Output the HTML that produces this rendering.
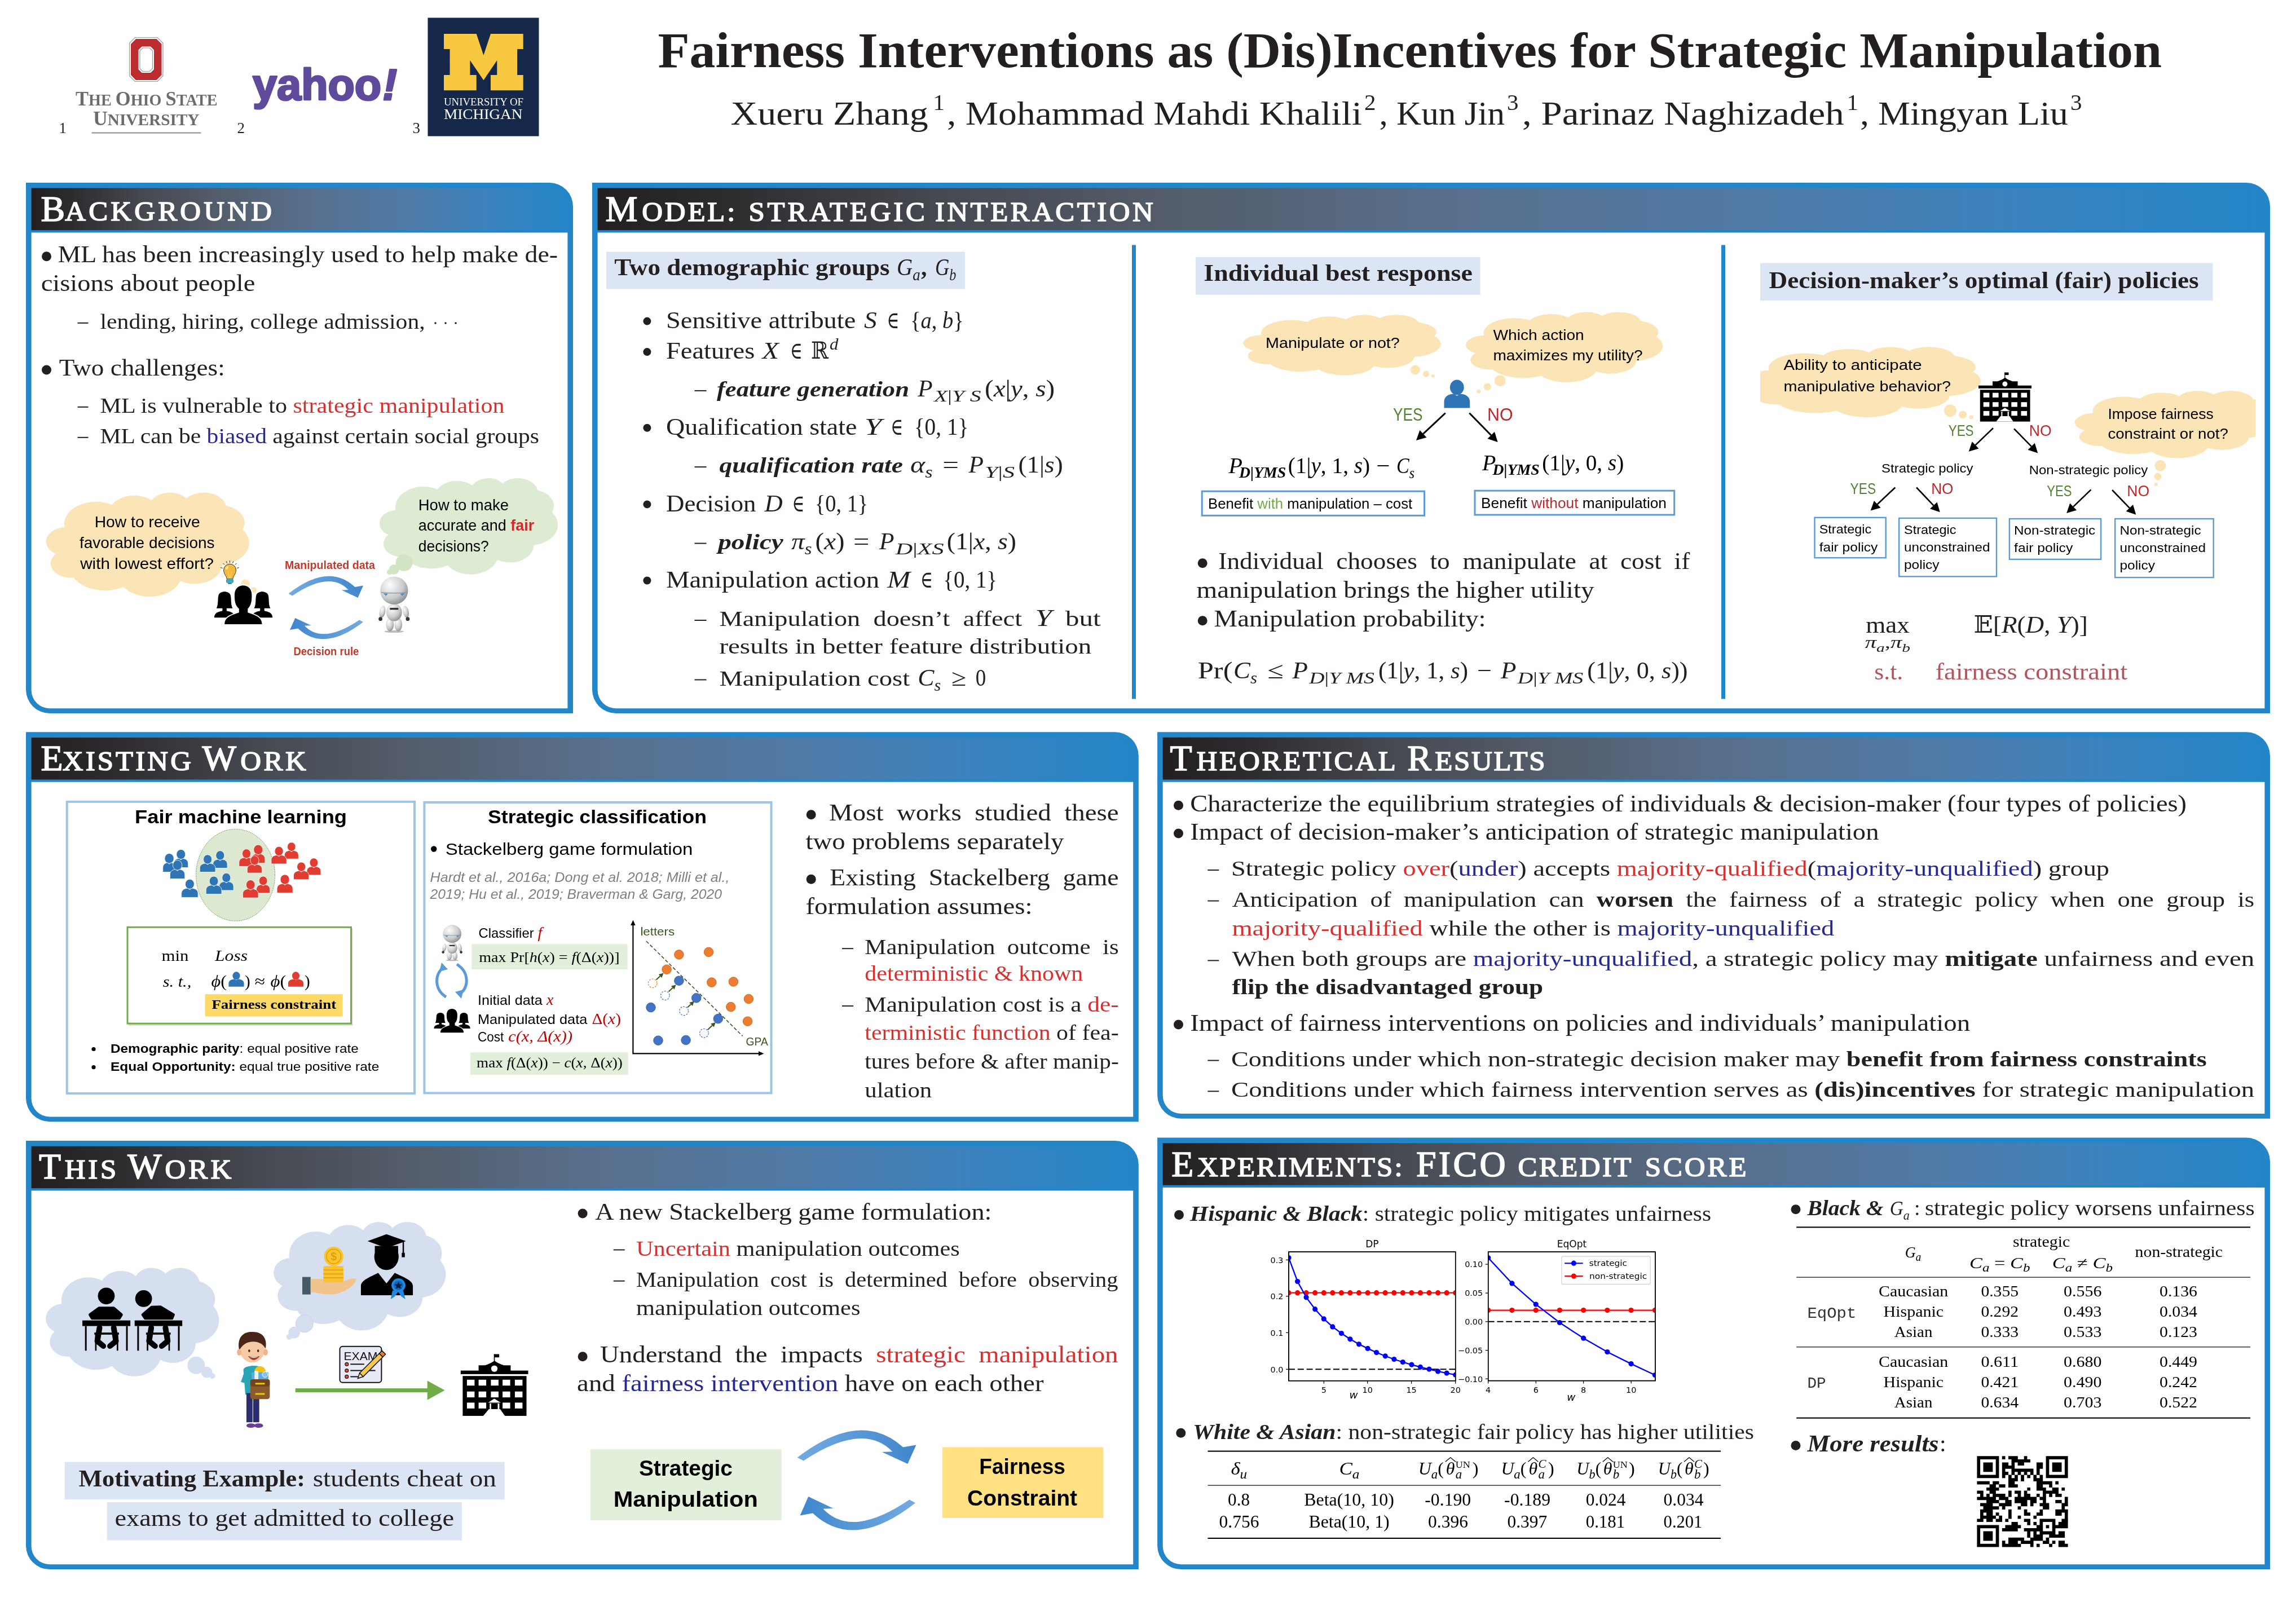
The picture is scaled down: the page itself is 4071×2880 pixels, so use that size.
<!DOCTYPE html>
<html lang="en"><head><meta charset="utf-8"><title>Fairness Interventions as (Dis)Incentives for Strategic Manipulation</title>
<style>html,body{margin:0;padding:0;background:#fff}svg{display:block;will-change:transform}text{white-space:pre}</style></head>
<body>
<svg width="4071" height="2880" viewBox="0 0 4071 2880">
<rect width="4071" height="2880" fill="#fff"/>
<text x="104.5" y="235.8" font-family="'Liberation Serif', 'DejaVu Serif', serif" font-size="27" fill="#231f20">1</text>
<text x="420.5" y="235.8" font-family="'Liberation Serif', 'DejaVu Serif', serif" font-size="27" fill="#231f20">2</text>
<text x="731.5" y="235.8" font-family="'Liberation Serif', 'DejaVu Serif', serif" font-size="27" fill="#231f20">3</text>
<path d="M239.5,66.5 H279 L289,76.5 V134.5 L279,144.5 H239.5 L229.5,134.5 V76.5 Z" fill="#fff" stroke="#9a9a9a" stroke-width="1.2"/>
<path d="M241,69 H277.5 L286.5,78 V133 L277.5,142 H241 L232,133 V78 Z M251.5,82.5 H267 L273,88.5 V123 L267,129 H251.5 L245.5,123 V88.5 Z" fill="#bb2d2f" fill-rule="evenodd"/>
<path d="M253,85 H265.5 L270.5,90 V121.5 L265.5,126.5 H253 L248,121.5 V90 Z" fill="#fff" stroke="#9a9a9a" stroke-width="1.2"/>
<text x="134.0" y="187.4" font-family="'Liberation Serif', 'DejaVu Serif', serif" font-size="29.5" fill="#6c6c6c" font-weight="bold" textLength="251.5" lengthAdjust="spacingAndGlyphs"><tspan font-size="36">T</tspan>HE <tspan font-size="36">O</tspan>HIO <tspan font-size="36">S</tspan>TATE</text>
<text x="165.0" y="222.4" font-family="'Liberation Serif', 'DejaVu Serif', serif" font-size="29.5" fill="#6c6c6c" font-weight="bold" textLength="188.5" lengthAdjust="spacingAndGlyphs"><tspan font-size="36">U</tspan>NIVERSITY</text>
<rect x="162.5" y="234.6" width="194.0" height="2.0" fill="#8a8a8a" />
<text x="448.0" y="177.0" font-family="'Liberation Sans', sans-serif" font-size="77" fill="#604a9c" font-weight="bold" textLength="256.0" lengthAdjust="spacingAndGlyphs" stroke="#604a9c" stroke-width="3.2" stroke-linejoin="round">yahoo<tspan font-style="italic" dx="2">!</tspan></text>
<rect x="758.5" y="31.5" width="197.0" height="210.0" fill="#15284a" />
<polygon points="787.0,60.0 844.7,60.0 857.4,98.1 870.0,60.0 927.7,60.0 927.7,87.1 917.1,87.1 917.1,132.9 927.7,132.9 927.7,160.3 870.0,160.3 870.0,132.9 881.3,132.9 881.3,107.1 857.4,142.2 833.4,107.1 833.4,132.9 844.7,132.9 844.7,160.3 787.0,160.3 787.0,132.9 797.6,132.9 797.6,87.1 787.0,87.1" fill="#f8c940"/>
<text x="787.0" y="187.4" font-family="'Liberation Serif', 'DejaVu Serif', serif" font-size="18.5" fill="#fff" textLength="141.0" lengthAdjust="spacingAndGlyphs">UNIVERSITY OF</text>
<text x="787.0" y="211.3" font-family="'Liberation Serif', 'DejaVu Serif', serif" font-size="25" fill="#fff" textLength="139.5" lengthAdjust="spacingAndGlyphs">MICHIGAN</text>
<text x="1166.5" y="119.4" font-family="'Liberation Serif', 'DejaVu Serif', serif" font-size="89" fill="#231f20" font-weight="bold" textLength="2666.5" lengthAdjust="spacingAndGlyphs">Fairness Interventions as (Dis)Incentives for Strategic Manipulation</text>
<text x="1295.6" y="221.3" font-family="'Liberation Serif', 'DejaVu Serif', serif" font-size="60" fill="#231f20" textLength="350.1" lengthAdjust="spacingAndGlyphs">Xueru Zhang</text>
<text x="1654.5" y="194.6" font-family="'Liberation Serif', 'DejaVu Serif', serif" font-size="41" fill="#231f20">1</text>
<text x="1679.0" y="221.3" font-family="'Liberation Serif', 'DejaVu Serif', serif" font-size="60" fill="#231f20" textLength="736.0" lengthAdjust="spacingAndGlyphs">, Mohammad Mahdi Khalili</text>
<text x="2419.0" y="194.6" font-family="'Liberation Serif', 'DejaVu Serif', serif" font-size="41" fill="#231f20">2</text>
<text x="2445.5" y="221.3" font-family="'Liberation Serif', 'DejaVu Serif', serif" font-size="60" fill="#231f20" textLength="222.5" lengthAdjust="spacingAndGlyphs">, Kun Jin</text>
<text x="2672.0" y="194.6" font-family="'Liberation Serif', 'DejaVu Serif', serif" font-size="41" fill="#231f20">3</text>
<text x="2699.0" y="221.3" font-family="'Liberation Serif', 'DejaVu Serif', serif" font-size="60" fill="#231f20" textLength="570.7" lengthAdjust="spacingAndGlyphs">, Parinaz Naghizadeh</text>
<text x="3274.5" y="194.6" font-family="'Liberation Serif', 'DejaVu Serif', serif" font-size="41" fill="#231f20">1</text>
<text x="3298.0" y="221.3" font-family="'Liberation Serif', 'DejaVu Serif', serif" font-size="60" fill="#231f20" textLength="368.8" lengthAdjust="spacingAndGlyphs">, Mingyan Liu</text>
<text x="3671.0" y="194.6" font-family="'Liberation Serif', 'DejaVu Serif', serif" font-size="41" fill="#231f20">3</text>
<path d="M46,324 H974 A42,42 0 0 1 1016,366 V1265 H88 A42,42 0 0 1 46,1223 Z" fill="#2386c8"/>
<path d="M55.6,412.5 H1006.4 V1256.2 H88.0 A32.4,32.4 0 0 1 55.6,1223.8 Z" fill="#fff"/>
<defs><linearGradient id="hg1" gradientUnits="userSpaceOnUse" x1="55.6" y1="0" x2="1016" y2="0"><stop offset="0" stop-color="#231f20"/><stop offset="0.08" stop-color="#2e2c2f"/><stop offset="0.2" stop-color="#45484f"/><stop offset="0.33" stop-color="#535b68"/><stop offset="0.5" stop-color="#586e8a"/><stop offset="0.7" stop-color="#507ba8"/><stop offset="0.85" stop-color="#3b83bf"/><stop offset="1" stop-color="#2386c8"/></linearGradient></defs>
<path d="M55.6,333.6 H974.0 A40.0,40.0 0 0 1 1014.0,366.0 V408.2 H55.6 Z" fill="url(#hg1)"/>
<path d="M1050,324 H3983 A42,42 0 0 1 4025,366 V1265 H1092 A42,42 0 0 1 1050,1223 Z" fill="#2386c8"/>
<path d="M1059.6,412.5 H4015.4 V1256.2 H1092.0 A32.4,32.4 0 0 1 1059.6,1223.8 Z" fill="#fff"/>
<defs><linearGradient id="hg2" gradientUnits="userSpaceOnUse" x1="1059.6" y1="0" x2="4025" y2="0"><stop offset="0" stop-color="#231f20"/><stop offset="0.08" stop-color="#2e2c2f"/><stop offset="0.2" stop-color="#45484f"/><stop offset="0.33" stop-color="#535b68"/><stop offset="0.5" stop-color="#586e8a"/><stop offset="0.7" stop-color="#507ba8"/><stop offset="0.85" stop-color="#3b83bf"/><stop offset="1" stop-color="#2386c8"/></linearGradient></defs>
<path d="M1059.6,333.6 H3983.0 A40.0,40.0 0 0 1 4023.0,366.0 V408.2 H1059.6 Z" fill="url(#hg2)"/>
<path d="M46,1298.3 H1976.8 A42,42 0 0 1 2018.8,1340.3 V1989.3 H88 A42,42 0 0 1 46,1947.3 Z" fill="#2386c8"/>
<path d="M55.6,1386.8 H2009.2 V1980.5 H88.0 A32.4,32.4 0 0 1 55.6,1948.1 Z" fill="#fff"/>
<defs><linearGradient id="hg3" gradientUnits="userSpaceOnUse" x1="55.6" y1="0" x2="2018.8" y2="0"><stop offset="0" stop-color="#231f20"/><stop offset="0.08" stop-color="#2e2c2f"/><stop offset="0.2" stop-color="#45484f"/><stop offset="0.33" stop-color="#535b68"/><stop offset="0.5" stop-color="#586e8a"/><stop offset="0.7" stop-color="#507ba8"/><stop offset="0.85" stop-color="#3b83bf"/><stop offset="1" stop-color="#2386c8"/></linearGradient></defs>
<path d="M55.6,1307.9 H1976.8 A40.0,40.0 0 0 1 2016.8,1340.3 V1382.5 H55.6 Z" fill="url(#hg3)"/>
<path d="M2052.1,1298.2 H3983 A42,42 0 0 1 4025,1340.2 V1983.7 H2094.1 A42,42 0 0 1 2052.1,1941.7 Z" fill="#2386c8"/>
<path d="M2061.7,1386.7 H4015.4 V1974.9 H2094.1 A32.4,32.4 0 0 1 2061.7,1942.5 Z" fill="#fff"/>
<defs><linearGradient id="hg4" gradientUnits="userSpaceOnUse" x1="2061.7" y1="0" x2="4025" y2="0"><stop offset="0" stop-color="#231f20"/><stop offset="0.08" stop-color="#2e2c2f"/><stop offset="0.2" stop-color="#45484f"/><stop offset="0.33" stop-color="#535b68"/><stop offset="0.5" stop-color="#586e8a"/><stop offset="0.7" stop-color="#507ba8"/><stop offset="0.85" stop-color="#3b83bf"/><stop offset="1" stop-color="#2386c8"/></linearGradient></defs>
<path d="M2061.7,1307.8 H3983.0 A40.0,40.0 0 0 1 4023.0,1340.2 V1382.4 H2061.7 Z" fill="url(#hg4)"/>
<path d="M46,2023.1 H1976.8 A42,42 0 0 1 2018.8,2065.1 V2783.1 H88 A42,42 0 0 1 46,2741.1 Z" fill="#2386c8"/>
<path d="M55.6,2111.6 H2009.2 V2774.3 H88.0 A32.4,32.4 0 0 1 55.6,2741.9 Z" fill="#fff"/>
<defs><linearGradient id="hg5" gradientUnits="userSpaceOnUse" x1="55.6" y1="0" x2="2018.8" y2="0"><stop offset="0" stop-color="#231f20"/><stop offset="0.08" stop-color="#2e2c2f"/><stop offset="0.2" stop-color="#45484f"/><stop offset="0.33" stop-color="#535b68"/><stop offset="0.5" stop-color="#586e8a"/><stop offset="0.7" stop-color="#507ba8"/><stop offset="0.85" stop-color="#3b83bf"/><stop offset="1" stop-color="#2386c8"/></linearGradient></defs>
<path d="M55.6,2032.7 H1976.8 A40.0,40.0 0 0 1 2016.8,2065.1 V2107.3 H55.6 Z" fill="url(#hg5)"/>
<path d="M2052.1,2017.6 H3983 A42,42 0 0 1 4025,2059.6 V2783.1 H2094.1 A42,42 0 0 1 2052.1,2741.1 Z" fill="#2386c8"/>
<path d="M2061.7,2106.1 H4015.4 V2774.3 H2094.1 A32.4,32.4 0 0 1 2061.7,2741.9 Z" fill="#fff"/>
<defs><linearGradient id="hg6" gradientUnits="userSpaceOnUse" x1="2061.7" y1="0" x2="4025" y2="0"><stop offset="0" stop-color="#231f20"/><stop offset="0.08" stop-color="#2e2c2f"/><stop offset="0.2" stop-color="#45484f"/><stop offset="0.33" stop-color="#535b68"/><stop offset="0.5" stop-color="#586e8a"/><stop offset="0.7" stop-color="#507ba8"/><stop offset="0.85" stop-color="#3b83bf"/><stop offset="1" stop-color="#2386c8"/></linearGradient></defs>
<path d="M2061.7,2027.2 H3983.0 A40.0,40.0 0 0 1 4023.0,2059.6 V2101.8 H2061.7 Z" fill="url(#hg6)"/>
<text x="72.4" y="391.5" font-family="'Liberation Serif', 'DejaVu Serif', serif" font-size="64" fill="#fff" stroke="#fff" stroke-width="1.6">B</text>
<text x="115.2" y="391.5" font-family="'Liberation Serif', 'DejaVu Serif', serif" font-size="48" fill="#fff" transform="translate(115.2,0) scale(1.06,1) translate(-115.2,0)" textLength="346.0" lengthAdjust="spacing" stroke="#fff" stroke-width="1.6">ACKGROUND</text>
<text x="1073.5" y="391.8" font-family="'Liberation Serif', 'DejaVu Serif', serif" font-size="64" fill="#fff" stroke="#fff" stroke-width="1.6">M</text>
<text x="1138.2" y="391.8" font-family="'Liberation Serif', 'DejaVu Serif', serif" font-size="48" fill="#fff" transform="translate(1138.2,0) scale(1.06,1) translate(-1138.2,0)" textLength="155.9" lengthAdjust="spacing" stroke="#fff" stroke-width="1.6">ODEL:</text>
<text x="1327.5" y="391.8" font-family="'Liberation Serif', 'DejaVu Serif', serif" font-size="48" fill="#fff" transform="translate(1327.5,0) scale(1.06,1) translate(-1327.5,0)" textLength="294.7" lengthAdjust="spacing" stroke="#fff" stroke-width="1.6">STRATEGIC</text>
<text x="1658.0" y="391.8" font-family="'Liberation Serif', 'DejaVu Serif', serif" font-size="48" fill="#fff" transform="translate(1658.0,0) scale(1.06,1) translate(-1658.0,0)" textLength="364.8" lengthAdjust="spacing" stroke="#fff" stroke-width="1.6">INTERACTION</text>
<text x="72.4" y="1366.0" font-family="'Liberation Serif', 'DejaVu Serif', serif" font-size="64" fill="#fff" stroke="#fff" stroke-width="1.6">E</text>
<text x="110.8" y="1366.0" font-family="'Liberation Serif', 'DejaVu Serif', serif" font-size="48" fill="#fff" transform="translate(110.8,0) scale(1.06,1) translate(-110.8,0)" textLength="215.2" lengthAdjust="spacing" stroke="#fff" stroke-width="1.6">XISTING</text>
<text x="358.6" y="1366.0" font-family="'Liberation Serif', 'DejaVu Serif', serif" font-size="64" fill="#fff" stroke="#fff" stroke-width="1.6">W</text>
<text x="426.2" y="1366.0" font-family="'Liberation Serif', 'DejaVu Serif', serif" font-size="48" fill="#fff" transform="translate(426.2,0) scale(1.06,1) translate(-426.2,0)" textLength="109.9" lengthAdjust="spacing" stroke="#fff" stroke-width="1.6">ORK</text>
<text x="2074.5" y="1365.6" font-family="'Liberation Serif', 'DejaVu Serif', serif" font-size="64" fill="#fff" stroke="#fff" stroke-width="1.6">T</text>
<text x="2121.6" y="1365.6" font-family="'Liberation Serif', 'DejaVu Serif', serif" font-size="48" fill="#fff" transform="translate(2121.6,0) scale(1.06,1) translate(-2121.6,0)" textLength="333.2" lengthAdjust="spacing" stroke="#fff" stroke-width="1.6">HEORETICAL</text>
<text x="2495.3" y="1365.6" font-family="'Liberation Serif', 'DejaVu Serif', serif" font-size="64" fill="#fff" stroke="#fff" stroke-width="1.6">R</text>
<text x="2544.3" y="1365.6" font-family="'Liberation Serif', 'DejaVu Serif', serif" font-size="48" fill="#fff" transform="translate(2544.3,0) scale(1.06,1) translate(-2544.3,0)" textLength="184.3" lengthAdjust="spacing" stroke="#fff" stroke-width="1.6">ESULTS</text>
<text x="69.0" y="2090.2" font-family="'Liberation Serif', 'DejaVu Serif', serif" font-size="64" fill="#fff" stroke="#fff" stroke-width="1.6">T</text>
<text x="114.8" y="2090.2" font-family="'Liberation Serif', 'DejaVu Serif', serif" font-size="48" fill="#fff" transform="translate(114.8,0) scale(1.06,1) translate(-114.8,0)" textLength="86.4" lengthAdjust="spacing" stroke="#fff" stroke-width="1.6">HIS</text>
<text x="226.2" y="2090.2" font-family="'Liberation Serif', 'DejaVu Serif', serif" font-size="64" fill="#fff" stroke="#fff" stroke-width="1.6">W</text>
<text x="292.5" y="2090.2" font-family="'Liberation Serif', 'DejaVu Serif', serif" font-size="48" fill="#fff" transform="translate(292.5,0) scale(1.06,1) translate(-292.5,0)" textLength="111.0" lengthAdjust="spacing" stroke="#fff" stroke-width="1.6">ORK</text>
<text x="2077.3" y="2085.9" font-family="'Liberation Serif', 'DejaVu Serif', serif" font-size="64" fill="#fff" stroke="#fff" stroke-width="1.6">E</text>
<text x="2122.9" y="2085.9" font-family="'Liberation Serif', 'DejaVu Serif', serif" font-size="48" fill="#fff" transform="translate(2122.9,0) scale(1.06,1) translate(-2122.9,0)" textLength="343.1" lengthAdjust="spacing" stroke="#fff" stroke-width="1.6">XPERIMENTS:</text>
<text x="2511.0" y="2085.9" font-family="'Liberation Serif', 'DejaVu Serif', serif" font-size="64" fill="#fff" transform="translate(2511.0,0) scale(1.0,1) translate(-2511.0,0)" textLength="158.6" lengthAdjust="spacing" stroke="#fff" stroke-width="1.6">FICO</text>
<text x="2691.6" y="2085.9" font-family="'Liberation Serif', 'DejaVu Serif', serif" font-size="48" fill="#fff" transform="translate(2691.6,0) scale(1.06,1) translate(-2691.6,0)" textLength="189.4" lengthAdjust="spacing" stroke="#fff" stroke-width="1.6">CREDIT</text>
<text x="2916.8" y="2085.9" font-family="'Liberation Serif', 'DejaVu Serif', serif" font-size="48" fill="#fff" transform="translate(2916.8,0) scale(1.06,1) translate(-2916.8,0)" textLength="169.5" lengthAdjust="spacing" stroke="#fff" stroke-width="1.6">SCORE</text>
<circle cx="82.5" cy="454.8" r="8.5" fill="#231f20" />
<text x="102.6" y="465.3" font-family="'Liberation Serif', 'DejaVu Serif', serif" font-size="42" fill="#231f20" textLength="886.4" lengthAdjust="spacingAndGlyphs">ML has been increasingly used to help make de-</text>
<text x="72.7" y="515.8" font-family="'Liberation Serif', 'DejaVu Serif', serif" font-size="42" fill="#231f20" textLength="379.7" lengthAdjust="spacingAndGlyphs">cisions about people</text>
<line x1="137.5" y1="572.8" x2="156.5" y2="572.8" stroke="#231f20" stroke-width="2" />
<text x="177.5" y="582.8" font-family="'Liberation Serif', 'DejaVu Serif', serif" font-size="38" fill="#231f20" textLength="576.2" lengthAdjust="spacingAndGlyphs">lending, hiring, college admission,</text>
<circle cx="772.0" cy="573.0" r="1.8" fill="#231f20" />
<circle cx="790.0" cy="573.0" r="1.8" fill="#231f20" />
<circle cx="808.0" cy="573.0" r="1.8" fill="#231f20" />
<circle cx="82.5" cy="655.9" r="8.5" fill="#231f20" />
<text x="104.8" y="666.4" font-family="'Liberation Serif', 'DejaVu Serif', serif" font-size="42" fill="#231f20" textLength="293.9" lengthAdjust="spacingAndGlyphs">Two challenges:</text>
<line x1="137.5" y1="721.8" x2="156.5" y2="721.8" stroke="#231f20" stroke-width="2" />
<text x="177.5" y="731.8" font-family="'Liberation Serif', 'DejaVu Serif', serif" font-size="38" fill="#231f20" textLength="717.0" lengthAdjust="spacingAndGlyphs">ML is vulnerable to <tspan fill="#d7302f">strategic manipulation</tspan></text>
<line x1="137.5" y1="775.8" x2="156.5" y2="775.8" stroke="#231f20" stroke-width="2" />
<text x="177.5" y="785.8" font-family="'Liberation Serif', 'DejaVu Serif', serif" font-size="38" fill="#231f20" textLength="778.5" lengthAdjust="spacingAndGlyphs">ML can be <tspan fill="#262a8c">biased</tspan> against certain social groups</text>
<path d="M114.5,934.4 A56.2,39.2 0 0 1 198.5,895.2 A44.4,31.0 0 0 1 268.9,887.7 A36.3,25.4 0 0 1 330.3,883.6 A40.4,28.2 0 0 1 400.9,896.8 A44.4,31.1 0 0 1 430.0,939.0 A56.4,39.4 0 0 1 393.3,1002.0 A48.1,33.6 0 0 1 319.6,1030.2 A56.2,39.4 0 0 1 219.1,1040.7 A64.2,45.0 0 0 1 130.3,1024.5 A36.3,25.3 0 0 1 99.6,982.1 A36.2,25.4 0 0 1 114.2,934.9Z" fill="#fbe5b6" />
<circle cx="435.0" cy="1035.5" r="8.0" fill="#fbe5b6" />
<circle cx="450.0" cy="1046.5" r="5.0" fill="#fbe5b6" />
<text x="167.7" y="935.3" font-family="'Liberation Sans', sans-serif" font-size="28.5" fill="#000" textLength="187.0" lengthAdjust="spacingAndGlyphs">How to receive</text>
<text x="141.0" y="971.8" font-family="'Liberation Sans', sans-serif" font-size="28.5" fill="#000" textLength="239.6" lengthAdjust="spacingAndGlyphs">favorable decisions</text>
<text x="142.2" y="1009.2" font-family="'Liberation Sans', sans-serif" font-size="28.5" fill="#000" textLength="236.8" lengthAdjust="spacingAndGlyphs">with lowest effort?</text>
<g><line x1="394.7" y1="1007.5" x2="391.2" y2="1006.6" stroke="#222" stroke-width="1"/><line x1="398.1" y1="1001.6" x2="395.6" y2="999.0" stroke="#222" stroke-width="1"/><line x1="402.5" y1="998.7" x2="401.2" y2="995.3" stroke="#222" stroke-width="1"/><line x1="407.5" y1="997.7" x2="407.5" y2="994.1" stroke="#222" stroke-width="1"/><line x1="412.5" y1="998.7" x2="413.8" y2="995.3" stroke="#222" stroke-width="1"/><line x1="416.9" y1="1001.6" x2="419.4" y2="999.0" stroke="#222" stroke-width="1"/><line x1="420.3" y1="1007.5" x2="423.8" y2="1006.6" stroke="#222" stroke-width="1"/><path d="M402.1,1026.8 C402.1,1021.3 396.6,1018.6 396.6,1011.0 A10.9,10.9 0 0 1 418.4,1011.0 C418.4,1018.6 412.9,1021.3 412.9,1026.8 Z" fill="#f6b93b" stroke="#333" stroke-width="1"/><ellipse cx="402.6" cy="1007.2" rx="2.0" ry="3.3" fill="#fbe29a" transform="rotate(30 402.6 1007.2)"/><path d="M404.8,1014.2 L406.6,1025.1 M410.2,1014.2 L408.4,1025.1" stroke="#fbe29a" stroke-width="1" fill="none"/><rect x="401.5" y="1026.8" width="12.0" height="6.8" rx="2" fill="#4cb5c3" stroke="#2d7f8c" stroke-width="0.8"/><line x1="401.5" y1="1030.1" x2="413.5" y2="1030.1" stroke="#2d7f8c" stroke-width="0.8"/><rect x="404.2" y="1033.5" width="6.5" height="2.2" fill="#2d7f8c"/></g>
<g fill="#000"><path d="M383.7,1078.7 C387.4,1072.5 385.8,1061.5 387.4,1055.9 C389.5,1047.0 406.7,1047.0 408.8,1055.9 C410.4,1061.5 408.8,1072.5 412.5,1078.7 Z"/><path d="M379.9,1095.3 C379.9,1086.3 387.4,1084.9 394.4,1083.2 V1076.0 H401.8 V1083.2 C408.8,1084.9 416.3,1086.3 416.3,1095.3 Z"/><path d="M450.5,1078.7 C454.3,1072.5 452.7,1061.5 454.3,1055.9 C456.4,1047.0 473.5,1047.0 475.7,1055.9 C477.3,1061.5 475.7,1072.5 479.4,1078.7 Z"/><path d="M446.8,1095.3 C446.8,1086.3 454.3,1084.9 461.2,1083.2 V1076.0 H468.7 V1083.2 C475.7,1084.9 483.2,1086.3 483.2,1095.3 Z"/><path d="M398.3,1107.0 C398.3,1094.6 409.6,1091.1 423.8,1086.3 V1079.4 C417.1,1073.9 415.5,1065.6 416.0,1053.2 C417.1,1033.2 445.2,1033.2 446.3,1053.2 C446.8,1065.6 445.2,1073.9 439.3,1079.4 V1086.3 C453.5,1091.1 464.5,1094.6 464.5,1107.0 Z" stroke="#fff" stroke-width="3.7"/><path d="M398.3,1107.0 C398.3,1094.6 409.6,1091.1 423.8,1086.3 V1079.4 C417.1,1073.9 415.5,1065.6 416.0,1053.2 C417.1,1033.2 445.2,1033.2 446.3,1053.2 C446.8,1065.6 445.2,1073.9 439.3,1079.4 V1086.3 C453.5,1091.1 464.5,1094.6 464.5,1107.0 Z"/></g>
<text x="505.0" y="1009.2" font-family="'Liberation Sans', sans-serif" font-size="19.3" fill="#c0392b" font-weight="bold" textLength="160.0" lengthAdjust="spacingAndGlyphs">Manipulated data</text>
<text x="520.5" y="1161.8" font-family="'Liberation Sans', sans-serif" font-size="19.3" fill="#c0392b" font-weight="bold" textLength="115.8" lengthAdjust="spacingAndGlyphs">Decision rule</text>
<defs><linearGradient id="agb1" x1="0" y1="0" x2="1" y2="0"><stop offset="0" stop-color="#74abe0"/><stop offset="1" stop-color="#3f86cc"/></linearGradient></defs>
<path d="M511.5,1052.8 Q582.4,997.1 629.4,1041.0 L644.0,1038.5 L634.5,1060.0 L605.8,1046.5 L617.5,1045.9 Q584.9,1011.5 518.4,1056.4 Z" fill="url(#agb1)"/>
<defs><linearGradient id="agb2" x1="1" y1="0" x2="0" y2="0"><stop offset="0" stop-color="#74abe0"/><stop offset="1" stop-color="#3f86cc"/></linearGradient></defs>
<path d="M644.0,1103.0 Q574.5,1157.2 528.3,1114.5 L514.0,1116.9 L523.4,1096.0 L551.4,1109.1 L540.0,1109.7 Q572.0,1143.3 637.2,1099.5 Z" fill="url(#agb2)"/>
<defs><radialGradient id="rgb" cx="0.35" cy="0.3" r="0.8"><stop offset="0" stop-color="#fdfdfd"/><stop offset="0.6" stop-color="#c9cbcc"/><stop offset="1" stop-color="#7f8385"/></radialGradient></defs>
<g><ellipse cx="698.8" cy="1120.0" rx="17.2" ry="2.0" fill="#bbb"/><ellipse cx="691.3" cy="1107.6" rx="6.9" ry="11.9" fill="url(#rgb)"/><ellipse cx="706.2" cy="1107.6" rx="6.9" ry="11.9" fill="url(#rgb)"/><ellipse cx="678.0" cy="1084.9" rx="5.2" ry="10.9" fill="url(#rgb)" transform="rotate(12 678.0 1084.9)"/><ellipse cx="719.5" cy="1084.9" rx="5.2" ry="10.9" fill="url(#rgb)" transform="rotate(-12 719.5 1084.9)"/><circle cx="674.6" cy="1097.7" r="3.4" fill="#333"/><circle cx="722.9" cy="1097.7" r="3.4" fill="#333"/><ellipse cx="698.8" cy="1085.9" rx="13.8" ry="15.8" fill="url(#rgb)"/><rect x="691.3" y="1077.9" width="15.0" height="3.5" fill="#333"/><ellipse cx="698.8" cy="1047.2" rx="24.7" ry="24.8" fill="url(#rgb)"/><path d="M675.8,1050.7 Q698.8,1053.2 721.8,1050.7" fill="none" stroke="#8d9092" stroke-width="1.2"/><polygon points="679.8,1052.2 687.8,1052.7 684.4,1056.7" fill="#3f8fd0"/><polygon points="717.7,1052.2 709.7,1052.7 713.1,1056.7" fill="#3f8fd0"/></g>
<path d="M701.5,904.2 A49.4,36.3 0 0 1 775.4,868.0 A39.0,28.7 0 0 1 837.3,861.0 A31.9,23.5 0 0 1 891.2,857.3 A35.5,26.0 0 0 1 953.3,869.5 A39.0,28.7 0 0 1 978.9,908.5 A49.6,36.4 0 0 1 946.6,966.7 A42.3,31.0 0 0 1 881.9,992.8 A49.4,36.4 0 0 1 793.6,1002.5 A56.5,41.6 0 0 1 715.5,987.5 A31.9,23.4 0 0 1 688.5,948.3 A31.8,23.5 0 0 1 701.3,904.7Z" fill="#deebd3" />
<circle cx="716.5" cy="998.0" r="15.0" fill="#d3e4c5" />
<circle cx="698.7" cy="1010.0" r="9.0" fill="#d3e4c5" />
<circle cx="691.0" cy="1014.5" r="5.0" fill="#d3e4c5" />
<text x="741.8" y="904.5" font-family="'Liberation Sans', sans-serif" font-size="28.5" fill="#000" textLength="160.2" lengthAdjust="spacingAndGlyphs">How to make</text>
<text x="741.8" y="941.0" font-family="'Liberation Sans', sans-serif" font-size="28.5" fill="#000" textLength="205.5" lengthAdjust="spacingAndGlyphs">accurate and <tspan font-weight="bold" fill="#d62828">fair</tspan></text>
<text x="741.8" y="977.5" font-family="'Liberation Sans', sans-serif" font-size="28.5" fill="#000" textLength="125.0" lengthAdjust="spacingAndGlyphs">decisions?</text>
<rect x="2007.0" y="434.5" width="7.0" height="805.0" fill="#2386c8" />
<rect x="3052.0" y="434.5" width="7.0" height="805.0" fill="#2386c8" />
<rect x="1075.0" y="446.5" width="636.0" height="66.0" fill="#dce5f3" />
<text x="1089.3" y="488.2" font-family="'Liberation Serif', 'DejaVu Serif', serif" font-size="42" fill="#231f20" font-weight="bold" textLength="488.3" lengthAdjust="spacingAndGlyphs">Two demographic groups</text>
<text x="1590.0" y="488.2" font-family="'Liberation Serif', 'DejaVu Serif', serif" font-size="42" fill="#231f20" textLength="41.7" lengthAdjust="spacingAndGlyphs"><tspan font-style="italic">G</tspan><tspan font-size="29" baseline-shift="-9.3" font-style="italic">a</tspan></text>
<text x="1633.0" y="488.2" font-family="'Liberation Serif', 'DejaVu Serif', serif" font-size="42" fill="#231f20" font-weight="bold">,</text>
<text x="1658.0" y="488.2" font-family="'Liberation Serif', 'DejaVu Serif', serif" font-size="42" fill="#231f20" textLength="37.5" lengthAdjust="spacingAndGlyphs"><tspan font-style="italic">G</tspan><tspan font-size="29" baseline-shift="-9.3" font-style="italic">b</tspan></text>
<circle cx="1147.4" cy="569.6" r="7.0" fill="#231f20" />
<text x="1181.0" y="581.9" font-family="'Liberation Serif', 'DejaVu Serif', serif" font-size="42" fill="#231f20" textLength="336.3" lengthAdjust="spacingAndGlyphs">Sensitive attribute</text>
<text x="1532.0" y="581.9" font-family="'Liberation Serif', 'DejaVu Serif', serif" font-size="42" fill="#231f20" textLength="22.7" lengthAdjust="spacingAndGlyphs"><tspan font-style="italic">S</tspan></text>
<text x="1572.3" y="581.9" font-family="'Liberation Serif', 'DejaVu Serif', serif" font-size="42" fill="#231f20" textLength="22.0" lengthAdjust="spacingAndGlyphs">∈</text>
<text x="1614.0" y="581.9" font-family="'Liberation Serif', 'DejaVu Serif', serif" font-size="42" fill="#231f20" textLength="94.7" lengthAdjust="spacingAndGlyphs">{<tspan font-style="italic">a</tspan>, <tspan font-style="italic">b</tspan>}</text>
<circle cx="1147.4" cy="624.1" r="7.0" fill="#231f20" />
<text x="1181.0" y="636.4" font-family="'Liberation Serif', 'DejaVu Serif', serif" font-size="42" fill="#231f20" textLength="157.3" lengthAdjust="spacingAndGlyphs">Features</text>
<text x="1351.5" y="636.4" font-family="'Liberation Serif', 'DejaVu Serif', serif" font-size="42" fill="#231f20" textLength="29.5" lengthAdjust="spacingAndGlyphs"><tspan font-style="italic">X</tspan></text>
<text x="1400.8" y="636.4" font-family="'Liberation Serif', 'DejaVu Serif', serif" font-size="42" fill="#231f20" textLength="21.9" lengthAdjust="spacingAndGlyphs">∈</text>
<text x="1438.0" y="636.4" font-family="'Liberation Serif', 'DejaVu Serif', serif" font-size="42" fill="#231f20" textLength="31.0" lengthAdjust="spacingAndGlyphs">ℝ</text>
<text x="1471.0" y="620.2" font-family="'Liberation Serif', 'DejaVu Serif', serif" font-size="29" fill="#231f20" textLength="15.5" lengthAdjust="spacingAndGlyphs"><tspan font-style="italic">d</tspan></text>
<line x1="1231.5" y1="692.9" x2="1252.5" y2="692.9" stroke="#231f20" stroke-width="2" />
<text x="1271.0" y="702.9" font-family="'Liberation Serif', 'DejaVu Serif', serif" font-size="38" fill="#231f20" font-weight="bold" font-style="italic" textLength="341.0" lengthAdjust="spacingAndGlyphs">feature generation</text>
<text x="1627.3" y="702.9" font-family="'Liberation Serif', 'DejaVu Serif', serif" font-size="42" fill="#231f20" textLength="26.4" lengthAdjust="spacingAndGlyphs"><tspan font-style="italic">P</tspan></text>
<text x="1656.0" y="712.0" font-family="'Liberation Serif', 'DejaVu Serif', serif" font-size="29" fill="#231f20" textLength="83.5" lengthAdjust="spacingAndGlyphs"><tspan font-style="italic">X</tspan>|<tspan font-style="italic">Y S</tspan></text>
<text x="1746.0" y="702.9" font-family="'Liberation Serif', 'DejaVu Serif', serif" font-size="42" fill="#231f20" textLength="124.2" lengthAdjust="spacingAndGlyphs">(<tspan font-style="italic">x</tspan>|<tspan font-style="italic">y</tspan>, <tspan font-style="italic">s</tspan>)</text>
<circle cx="1147.4" cy="758.7" r="7.0" fill="#231f20" />
<text x="1181.0" y="771.0" font-family="'Liberation Serif', 'DejaVu Serif', serif" font-size="42" fill="#231f20" textLength="338.5" lengthAdjust="spacingAndGlyphs">Qualification state</text>
<text x="1532.7" y="771.0" font-family="'Liberation Serif', 'DejaVu Serif', serif" font-size="42" fill="#231f20" textLength="30.8" lengthAdjust="spacingAndGlyphs"><tspan font-style="italic">Y</tspan></text>
<text x="1579.0" y="771.0" font-family="'Liberation Serif', 'DejaVu Serif', serif" font-size="42" fill="#231f20" textLength="22.0" lengthAdjust="spacingAndGlyphs">∈</text>
<text x="1620.7" y="771.0" font-family="'Liberation Serif', 'DejaVu Serif', serif" font-size="42" fill="#231f20" textLength="96.8" lengthAdjust="spacingAndGlyphs">{0, 1}</text>
<line x1="1231.5" y1="828.1" x2="1252.5" y2="828.1" stroke="#231f20" stroke-width="2" />
<text x="1275.4" y="838.1" font-family="'Liberation Serif', 'DejaVu Serif', serif" font-size="38" fill="#231f20" font-weight="bold" font-style="italic" textLength="325.6" lengthAdjust="spacingAndGlyphs">qualification rate</text>
<text x="1614.0" y="838.1" font-family="'Liberation Serif', 'DejaVu Serif', serif" font-size="42" fill="#231f20" textLength="39.7" lengthAdjust="spacingAndGlyphs"><tspan font-style="italic">α</tspan><tspan font-size="29" baseline-shift="-9.3" font-style="italic">s</tspan></text>
<text x="1671.3" y="838.1" font-family="'Liberation Serif', 'DejaVu Serif', serif" font-size="42" fill="#231f20" textLength="28.7" lengthAdjust="spacingAndGlyphs">=</text>
<text x="1717.5" y="838.1" font-family="'Liberation Serif', 'DejaVu Serif', serif" font-size="42" fill="#231f20" textLength="26.5" lengthAdjust="spacingAndGlyphs"><tspan font-style="italic">P</tspan></text>
<text x="1746.0" y="847.2" font-family="'Liberation Serif', 'DejaVu Serif', serif" font-size="29" fill="#231f20" textLength="53.0" lengthAdjust="spacingAndGlyphs"><tspan font-style="italic">Y</tspan>|<tspan font-style="italic">S</tspan></text>
<text x="1805.5" y="838.1" font-family="'Liberation Serif', 'DejaVu Serif', serif" font-size="42" fill="#231f20" textLength="79.2" lengthAdjust="spacingAndGlyphs">(1|<tspan font-style="italic">s</tspan>)</text>
<circle cx="1147.4" cy="894.4" r="7.0" fill="#231f20" />
<text x="1181.0" y="906.7" font-family="'Liberation Serif', 'DejaVu Serif', serif" font-size="42" fill="#231f20" textLength="159.5" lengthAdjust="spacingAndGlyphs">Decision</text>
<text x="1355.4" y="906.7" font-family="'Liberation Serif', 'DejaVu Serif', serif" font-size="42" fill="#231f20" textLength="32.2" lengthAdjust="spacingAndGlyphs"><tspan font-style="italic">D</tspan></text>
<text x="1404.3" y="906.7" font-family="'Liberation Serif', 'DejaVu Serif', serif" font-size="42" fill="#231f20" textLength="22.0" lengthAdjust="spacingAndGlyphs">∈</text>
<text x="1444.8" y="906.7" font-family="'Liberation Serif', 'DejaVu Serif', serif" font-size="42" fill="#231f20" textLength="94.5" lengthAdjust="spacingAndGlyphs">{0, 1}</text>
<line x1="1231.5" y1="963.6" x2="1252.5" y2="963.6" stroke="#231f20" stroke-width="2" />
<text x="1273.2" y="973.6" font-family="'Liberation Serif', 'DejaVu Serif', serif" font-size="38" fill="#231f20" font-weight="bold" font-style="italic" textLength="115.7" lengthAdjust="spacingAndGlyphs">policy</text>
<text x="1403.0" y="973.6" font-family="'Liberation Serif', 'DejaVu Serif', serif" font-size="42" fill="#231f20" textLength="36.5" lengthAdjust="spacingAndGlyphs"><tspan font-style="italic">π</tspan><tspan font-size="29" baseline-shift="-9.3" font-style="italic">s</tspan></text>
<text x="1445.6" y="973.6" font-family="'Liberation Serif', 'DejaVu Serif', serif" font-size="42" fill="#231f20" textLength="51.9" lengthAdjust="spacingAndGlyphs">(<tspan font-style="italic">x</tspan>)</text>
<text x="1513.0" y="973.6" font-family="'Liberation Serif', 'DejaVu Serif', serif" font-size="42" fill="#231f20" textLength="28.5" lengthAdjust="spacingAndGlyphs">=</text>
<text x="1559.0" y="973.6" font-family="'Liberation Serif', 'DejaVu Serif', serif" font-size="42" fill="#231f20" textLength="26.5" lengthAdjust="spacingAndGlyphs"><tspan font-style="italic">P</tspan></text>
<text x="1587.7" y="982.7" font-family="'Liberation Serif', 'DejaVu Serif', serif" font-size="29" fill="#231f20" textLength="85.8" lengthAdjust="spacingAndGlyphs"><tspan font-style="italic">D</tspan>|<tspan font-style="italic">XS</tspan></text>
<text x="1678.8" y="973.6" font-family="'Liberation Serif', 'DejaVu Serif', serif" font-size="42" fill="#231f20" textLength="123.2" lengthAdjust="spacingAndGlyphs">(1|<tspan font-style="italic">x</tspan>, <tspan font-style="italic">s</tspan>)</text>
<circle cx="1147.4" cy="1029.5" r="7.0" fill="#231f20" />
<text x="1181.0" y="1041.8" font-family="'Liberation Serif', 'DejaVu Serif', serif" font-size="42" fill="#231f20" textLength="378.1" lengthAdjust="spacingAndGlyphs">Manipulation action</text>
<text x="1573.2" y="1041.8" font-family="'Liberation Serif', 'DejaVu Serif', serif" font-size="42" fill="#231f20" textLength="40.9" lengthAdjust="spacingAndGlyphs"><tspan font-style="italic">M</tspan></text>
<text x="1631.7" y="1041.8" font-family="'Liberation Serif', 'DejaVu Serif', serif" font-size="42" fill="#231f20" textLength="22.0" lengthAdjust="spacingAndGlyphs">∈</text>
<text x="1672.2" y="1041.8" font-family="'Liberation Serif', 'DejaVu Serif', serif" font-size="42" fill="#231f20" textLength="95.9" lengthAdjust="spacingAndGlyphs">{0, 1}</text>
<line x1="1231.5" y1="1100.0" x2="1252.5" y2="1100.0" stroke="#231f20" stroke-width="2" />
<text x="1275.4" y="1110.0" font-family="'Liberation Serif', 'DejaVu Serif', serif" font-size="38" fill="#231f20" textLength="536.7" lengthAdjust="spacingAndGlyphs">Manipulation  doesn’t  affect</text>
<text x="1835.4" y="1110.0" font-family="'Liberation Serif', 'DejaVu Serif', serif" font-size="42" fill="#231f20" textLength="29.5" lengthAdjust="spacingAndGlyphs"><tspan font-style="italic">Y</tspan></text>
<text x="1889.1" y="1110.0" font-family="'Liberation Serif', 'DejaVu Serif', serif" font-size="38" fill="#231f20" textLength="62.5" lengthAdjust="spacingAndGlyphs">but</text>
<text x="1275.4" y="1159.2" font-family="'Liberation Serif', 'DejaVu Serif', serif" font-size="38" fill="#231f20" textLength="659.9" lengthAdjust="spacingAndGlyphs">results in better feature distribution</text>
<line x1="1231.5" y1="1205.5" x2="1252.5" y2="1205.5" stroke="#231f20" stroke-width="2" />
<text x="1275.4" y="1215.5" font-family="'Liberation Serif', 'DejaVu Serif', serif" font-size="38" fill="#231f20" textLength="337.8" lengthAdjust="spacingAndGlyphs">Manipulation cost</text>
<text x="1627.3" y="1215.5" font-family="'Liberation Serif', 'DejaVu Serif', serif" font-size="42" fill="#231f20" textLength="40.9" lengthAdjust="spacingAndGlyphs"><tspan font-style="italic">C</tspan><tspan font-size="29" baseline-shift="-9.3" font-style="italic">s</tspan></text>
<text x="1686.7" y="1215.5" font-family="'Liberation Serif', 'DejaVu Serif', serif" font-size="42" fill="#231f20" textLength="26.4" lengthAdjust="spacingAndGlyphs">≥</text>
<text x="1729.8" y="1215.5" font-family="'Liberation Serif', 'DejaVu Serif', serif" font-size="42" fill="#231f20" textLength="18.5" lengthAdjust="spacingAndGlyphs">0</text>
<rect x="2120.0" y="455.8" width="504.5" height="66.8" fill="#dce5f3" />
<text x="2134.3" y="498.3" font-family="'Liberation Serif', 'DejaVu Serif', serif" font-size="42" fill="#231f20" font-weight="bold" textLength="476.5" lengthAdjust="spacingAndGlyphs">Individual best response</text>
<path d="M2236.6,593.6 A54.6,22.8 0 0 1 2318.3,570.9 A43.1,18.0 0 0 1 2386.7,566.5 A35.3,14.7 0 0 1 2446.4,564.1 A39.3,16.3 0 0 1 2515.0,571.8 A43.1,18.0 0 0 1 2543.3,596.3 A54.8,22.8 0 0 1 2507.6,632.8 A46.8,19.5 0 0 1 2436.0,649.2 A54.6,22.8 0 0 1 2338.3,655.3 A62.5,26.1 0 0 1 2252.0,645.9 A35.3,14.7 0 0 1 2222.1,621.3 A35.2,14.7 0 0 1 2236.3,593.9Z" fill="#fbe5b6" />
<circle cx="2509.3" cy="656.1" r="8.5" fill="#fbe5b6" />
<circle cx="2528.5" cy="663.0" r="5.5" fill="#fbe5b6" />
<circle cx="2540.8" cy="666.6" r="3.0" fill="#fbe5b6" />
<text x="2244.0" y="617.2" font-family="'Liberation Sans', sans-serif" font-size="25.2" fill="#000" textLength="237.8" lengthAdjust="spacingAndGlyphs">Manipulate or not?</text>
<path d="M2631.0,594.4 A54.5,26.5 0 0 1 2712.6,568.0 A43.1,20.9 0 0 1 2780.8,562.9 A35.2,17.1 0 0 1 2840.4,560.1 A39.2,19.0 0 0 1 2908.9,569.1 A43.1,21.0 0 0 1 2937.1,597.6 A54.7,26.6 0 0 1 2901.5,640.0 A46.7,22.7 0 0 1 2830.1,659.1 A54.5,26.6 0 0 1 2732.6,666.2 A62.3,30.4 0 0 1 2646.4,655.2 A35.2,17.1 0 0 1 2616.6,626.6 A35.1,17.1 0 0 1 2630.7,594.8Z" fill="#fbe5b6" />
<circle cx="2659.7" cy="675.3" r="10.0" fill="#fbe5b6" />
<circle cx="2637.3" cy="685.8" r="6.5" fill="#fbe5b6" />
<circle cx="2621.8" cy="694.0" r="3.5" fill="#fbe5b6" />
<text x="2647.4" y="602.6" font-family="'Liberation Sans', sans-serif" font-size="25.2" fill="#000" textLength="161.4" lengthAdjust="spacingAndGlyphs">Which action</text>
<text x="2647.4" y="639.2" font-family="'Liberation Sans', sans-serif" font-size="25.2" fill="#000" textLength="265.2" lengthAdjust="spacingAndGlyphs">maximizes my utility?</text>
<g fill="#2e75b6"><ellipse cx="2583.3" cy="687.0" rx="12.4" ry="13.5"/><path d="M2560.5,723.5 V712.5 C2560.5,702.5 2569.6,698.5 2577.8,698.5 L2583.3,702.0 L2588.8,698.5 C2597.0,698.5 2606.2,702.5 2606.2,712.5 V723.5 Z"/></g>
<text x="2470.0" y="746.2" font-family="'Liberation Sans', sans-serif" font-size="31.5" fill="#548235" textLength="52.5" lengthAdjust="spacingAndGlyphs">YES</text>
<text x="2637.0" y="746.2" font-family="'Liberation Sans', sans-serif" font-size="31.5" fill="#c0282d" textLength="45.6" lengthAdjust="spacingAndGlyphs">NO</text>
<line x1="2562.8" y1="732.5" x2="2523.4" y2="769.4" stroke="#000" stroke-width="3"/><polygon points="2511.0,781.0 2517.4,762.9 2529.5,775.8" fill="#000"/>
<line x1="2605.3" y1="732.5" x2="2643.7" y2="771.8" stroke="#000" stroke-width="3"/><polygon points="2655.6,784.0 2637.4,778.0 2650.0,765.7" fill="#000"/>
<text x="2178.5" y="839.0" font-family="'Liberation Serif', 'DejaVu Serif', serif" font-size="40" fill="#000"><tspan font-style="italic">P</tspan></text>
<text x="2197.0" y="846.5" font-family="'Liberation Serif', 'DejaVu Serif', serif" font-size="28" fill="#000" font-weight="bold" textLength="83.2" lengthAdjust="spacingAndGlyphs"><tspan font-style="italic">D|YMS</tspan></text>
<text x="2283.8" y="839.0" font-family="'Liberation Serif', 'DejaVu Serif', serif" font-size="40" fill="#000" textLength="145.4" lengthAdjust="spacingAndGlyphs">(1|<tspan font-style="italic">y</tspan>, 1, <tspan font-style="italic">s</tspan>)</text>
<text x="2440.2" y="839.0" font-family="'Liberation Serif', 'DejaVu Serif', serif" font-size="40" fill="#000" textLength="24.2" lengthAdjust="spacingAndGlyphs">−</text>
<text x="2476.0" y="839.0" font-family="'Liberation Serif', 'DejaVu Serif', serif" font-size="40" fill="#000" textLength="32.0" lengthAdjust="spacingAndGlyphs"><tspan font-style="italic">C</tspan><tspan font-size="28" baseline-shift="-9.0" font-style="italic">s</tspan></text>
<text x="2628.0" y="834.4" font-family="'Liberation Serif', 'DejaVu Serif', serif" font-size="40" fill="#000"><tspan font-style="italic">P</tspan></text>
<text x="2646.5" y="842.0" font-family="'Liberation Serif', 'DejaVu Serif', serif" font-size="28" fill="#000" font-weight="bold" textLength="83.2" lengthAdjust="spacingAndGlyphs"><tspan font-style="italic">D|YMS</tspan></text>
<text x="2734.3" y="834.4" font-family="'Liberation Serif', 'DejaVu Serif', serif" font-size="40" fill="#000" textLength="144.9" lengthAdjust="spacingAndGlyphs">(1|<tspan font-style="italic">y</tspan>, 0, <tspan font-style="italic">s</tspan>)</text>
<rect x="2131.2" y="871.2" width="394.4" height="43.1" fill="#fff" stroke="#5b9bd5" stroke-width="3" />
<text x="2142.0" y="901.7" font-family="'Liberation Sans', sans-serif" font-size="25.2" fill="#000" textLength="362.2" lengthAdjust="spacingAndGlyphs">Benefit <tspan fill="#70ad47">with</tspan> manipulation – cost</text>
<rect x="2615.0" y="870.2" width="353.7" height="42.8" fill="#fff" stroke="#5b9bd5" stroke-width="3" />
<text x="2626.0" y="900.8" font-family="'Liberation Sans', sans-serif" font-size="25.2" fill="#000" textLength="329.0" lengthAdjust="spacingAndGlyphs">Benefit <tspan fill="#c0282d">without</tspan> manipulation</text>
<circle cx="2132.2" cy="998.7" r="8.5" fill="#231f20" />
<text x="2160.3" y="1009.2" font-family="'Liberation Serif', 'DejaVu Serif', serif" font-size="42" fill="#231f20" textLength="836.0" lengthAdjust="spacingAndGlyphs">Individual  chooses  to  manipulate  at  cost  if</text>
<text x="2121.5" y="1059.5" font-family="'Liberation Serif', 'DejaVu Serif', serif" font-size="42" fill="#231f20" textLength="705.1" lengthAdjust="spacingAndGlyphs">manipulation brings the higher utility</text>
<circle cx="2132.2" cy="1100.7" r="8.5" fill="#231f20" />
<text x="2152.6" y="1111.2" font-family="'Liberation Serif', 'DejaVu Serif', serif" font-size="42" fill="#231f20" textLength="482.0" lengthAdjust="spacingAndGlyphs">Manipulation probability:</text>
<text x="2123.7" y="1202.6" font-family="'Liberation Serif', 'DejaVu Serif', serif" font-size="42" fill="#231f20" textLength="61.8" lengthAdjust="spacingAndGlyphs">Pr(</text>
<text x="2187.0" y="1202.6" font-family="'Liberation Serif', 'DejaVu Serif', serif" font-size="42" fill="#231f20" textLength="42.0" lengthAdjust="spacingAndGlyphs"><tspan font-style="italic">C</tspan><tspan font-size="29" baseline-shift="-9.3" font-style="italic">s</tspan></text>
<text x="2247.2" y="1202.6" font-family="'Liberation Serif', 'DejaVu Serif', serif" font-size="42" fill="#231f20" textLength="28.4" lengthAdjust="spacingAndGlyphs">≤</text>
<text x="2291.6" y="1202.6" font-family="'Liberation Serif', 'DejaVu Serif', serif" font-size="42" fill="#231f20" textLength="27.4" lengthAdjust="spacingAndGlyphs"><tspan font-style="italic">P</tspan></text>
<text x="2321.3" y="1211.8" font-family="'Liberation Serif', 'DejaVu Serif', serif" font-size="29" fill="#231f20" textLength="115.7" lengthAdjust="spacingAndGlyphs"><tspan font-style="italic">D</tspan>|<tspan font-style="italic">Y MS</tspan></text>
<text x="2444.0" y="1202.6" font-family="'Liberation Serif', 'DejaVu Serif', serif" font-size="42" fill="#231f20" textLength="159.0" lengthAdjust="spacingAndGlyphs">(1|<tspan font-style="italic">y</tspan>, 1, <tspan font-style="italic">s</tspan>)</text>
<text x="2619.0" y="1202.6" font-family="'Liberation Serif', 'DejaVu Serif', serif" font-size="42" fill="#231f20" textLength="26.0" lengthAdjust="spacingAndGlyphs">−</text>
<text x="2661.0" y="1202.6" font-family="'Liberation Serif', 'DejaVu Serif', serif" font-size="42" fill="#231f20" textLength="27.5" lengthAdjust="spacingAndGlyphs"><tspan font-style="italic">P</tspan></text>
<text x="2690.8" y="1211.8" font-family="'Liberation Serif', 'DejaVu Serif', serif" font-size="29" fill="#231f20" textLength="116.6" lengthAdjust="spacingAndGlyphs"><tspan font-style="italic">D</tspan>|<tspan font-style="italic">Y MS</tspan></text>
<text x="2814.3" y="1202.6" font-family="'Liberation Serif', 'DejaVu Serif', serif" font-size="42" fill="#231f20" textLength="178.3" lengthAdjust="spacingAndGlyphs">(1|<tspan font-style="italic">y</tspan>, 0, <tspan font-style="italic">s</tspan>))</text>
<rect x="3121.0" y="466.5" width="802.6" height="66.5" fill="#dce5f3" />
<text x="3136.5" y="510.9" font-family="'Liberation Serif', 'DejaVu Serif', serif" font-size="42" fill="#231f20" font-weight="bold" textLength="762.2" lengthAdjust="spacingAndGlyphs">Decision-maker’s optimal (fair) policies</text>
<defs><clipPath id="cpL"><rect x="3121" y="600" width="500" height="170"/></clipPath><clipPath id="cpR"><rect x="3600" y="680" width="399.6" height="200"/></clipPath></defs>
<g clip-path="url(#cpL)">
<path d="M3136.3,656.4 A64.6,26.5 0 0 1 3232.9,630.0 A51.0,20.9 0 0 1 3313.7,624.9 A41.7,17.1 0 0 1 3384.2,622.1 A46.4,19.0 0 0 1 3465.3,631.1 A51.0,21.0 0 0 1 3498.8,659.6 A64.8,26.6 0 0 1 3456.6,702.0 A55.3,22.7 0 0 1 3372.0,721.1 A64.6,26.6 0 0 1 3256.6,728.2 A73.8,30.4 0 0 1 3154.5,717.2 A41.7,17.1 0 0 1 3119.2,688.6 A41.5,17.1 0 0 1 3135.9,656.8Z" fill="#fbe5b6" />
</g>
<circle cx="3458.0" cy="728.2" r="11.0" fill="#fbe5b6" />
<circle cx="3480.2" cy="735.4" r="7.0" fill="#fbe5b6" />
<circle cx="3495.1" cy="739.8" r="3.5" fill="#fbe5b6" />
<text x="3162.5" y="656.1" font-family="'Liberation Sans', sans-serif" font-size="26.6" fill="#000" textLength="245.1" lengthAdjust="spacingAndGlyphs">Ability to anticipate</text>
<text x="3162.5" y="693.8" font-family="'Liberation Sans', sans-serif" font-size="26.6" fill="#000" textLength="296.6" lengthAdjust="spacingAndGlyphs">manipulative behavior?</text>
<g><rect x="3554.2" y="660.5" width="1.2" height="10.0" fill="#000"/><rect x="3554.5" y="660.5" width="7.0" height="4.5" fill="#000"/><path d="M3533.0,684.0 V676.2 H3541.8 Q3550.3,673.6 3555.1,669.6 Q3559.7,673.6 3568.2,676.2 H3577.6 V684.0 Z" fill="#000"/><rect x="3508.0" y="683.7" width="94.0" height="5.1" fill="#000"/><circle cx="3554.9" cy="680.9" r="4.5" fill="#fff"/><rect x="3510.8" y="691.3" width="88.8" height="56.3" fill="#000"/><rect x="3516.7" y="696.6" width="10.6" height="8.3" fill="#fff"/><rect x="3533.0" y="696.6" width="10.6" height="8.3" fill="#fff"/><rect x="3550.1" y="696.6" width="10.6" height="8.3" fill="#fff"/><rect x="3566.3" y="696.6" width="10.6" height="8.3" fill="#fff"/><rect x="3583.5" y="696.6" width="10.6" height="8.3" fill="#fff"/><rect x="3516.7" y="713.2" width="10.6" height="8.3" fill="#fff"/><rect x="3533.0" y="713.2" width="10.6" height="8.3" fill="#fff"/><rect x="3550.1" y="713.2" width="10.6" height="8.3" fill="#fff"/><rect x="3566.3" y="713.2" width="10.6" height="8.3" fill="#fff"/><rect x="3583.5" y="713.2" width="10.6" height="8.3" fill="#fff"/><rect x="3516.7" y="728.9" width="10.6" height="8.3" fill="#fff"/><rect x="3533.0" y="728.9" width="10.6" height="8.3" fill="#fff"/><rect x="3566.3" y="728.9" width="10.6" height="8.3" fill="#fff"/><rect x="3583.5" y="728.9" width="10.6" height="8.3" fill="#fff"/><polygon points="3539.4,747.6 3569.7,747.6 3563.0,738.0 3547.3,738.0" fill="#fff"/><rect x="3548.4" y="728.9" width="13.4" height="9.1" fill="#fff"/><polygon points="3545.6,729.3 3554.9,723.2 3564.4,729.3" fill="#fff"/><rect x="3545.6" y="728.9" width="18.8" height="1.0" fill="#000"/><rect x="3550.4" y="729.9" width="9.2" height="8.1" fill="#000"/></g>
<g clip-path="url(#cpR)">
<path d="M3711.1,732.4 A55.6,25.4 0 0 1 3794.4,707.1 A43.9,20.1 0 0 1 3864.1,702.2 A36.0,16.4 0 0 1 3924.8,699.6 A40.0,18.2 0 0 1 3994.8,708.1 A43.9,20.1 0 0 1 4023.6,735.4 A55.8,25.5 0 0 1 3987.2,776.1 A47.7,21.7 0 0 1 3914.3,794.4 A55.6,25.4 0 0 1 3814.8,801.1 A63.6,29.1 0 0 1 3726.8,790.7 A35.9,16.3 0 0 1 3696.4,763.3 A35.8,16.4 0 0 1 3710.8,732.8Z" fill="#fbe5b6" />
</g>
<circle cx="3830.5" cy="825.7" r="10.0" fill="#fbe5b6" />
<circle cx="3826.1" cy="845.1" r="6.5" fill="#fbe5b6" />
<circle cx="3822.7" cy="859.0" r="3.0" fill="#fbe5b6" />
<text x="3737.4" y="742.6" font-family="'Liberation Sans', sans-serif" font-size="26.6" fill="#000" textLength="187.3" lengthAdjust="spacingAndGlyphs">Impose fairness</text>
<text x="3737.4" y="778.0" font-family="'Liberation Sans', sans-serif" font-size="26.6" fill="#000" textLength="213.4" lengthAdjust="spacingAndGlyphs">constraint or not?</text>
<text x="3454.7" y="772.5" font-family="'Liberation Sans', sans-serif" font-size="27.5" fill="#548235" textLength="44.9" lengthAdjust="spacingAndGlyphs">YES</text>
<text x="3597.7" y="772.5" font-family="'Liberation Sans', sans-serif" font-size="27.5" fill="#c0282d" textLength="39.9" lengthAdjust="spacingAndGlyphs">NO</text>
<line x1="3534.0" y1="759.2" x2="3502.6" y2="789.4" stroke="#000" stroke-width="2.6"/><polygon points="3490.7,800.8 3496.7,783.2 3508.5,795.6" fill="#000"/>
<line x1="3571.1" y1="760.3" x2="3601.7" y2="791.7" stroke="#000" stroke-width="2.6"/><polygon points="3613.2,803.5 3595.5,797.7 3607.8,785.7" fill="#000"/>
<text x="3336.1" y="837.9" font-family="'Liberation Sans', sans-serif" font-size="22.8" fill="#000" textLength="162.4" lengthAdjust="spacingAndGlyphs">Strategic policy</text>
<text x="3597.7" y="840.7" font-family="'Liberation Sans', sans-serif" font-size="22.8" fill="#000" textLength="210.6" lengthAdjust="spacingAndGlyphs">Non-strategic policy</text>
<text x="3280.6" y="875.6" font-family="'Liberation Sans', sans-serif" font-size="27.5" fill="#548235" textLength="45.5" lengthAdjust="spacingAndGlyphs">YES</text>
<text x="3424.2" y="875.6" font-family="'Liberation Sans', sans-serif" font-size="27.5" fill="#c0282d" textLength="39.3" lengthAdjust="spacingAndGlyphs">NO</text>
<line x1="3360.4" y1="864.5" x2="3328.7" y2="894.2" stroke="#000" stroke-width="2.6"/><polygon points="3316.7,905.5 3322.9,888.0 3334.6,900.5" fill="#000"/>
<line x1="3398.1" y1="864.5" x2="3428.3" y2="896.3" stroke="#000" stroke-width="2.6"/><polygon points="3439.7,908.3 3422.1,902.2 3434.6,890.4" fill="#000"/>
<text x="3629.3" y="879.5" font-family="'Liberation Sans', sans-serif" font-size="27.5" fill="#548235" textLength="44.3" lengthAdjust="spacingAndGlyphs">YES</text>
<text x="3771.2" y="879.5" font-family="'Liberation Sans', sans-serif" font-size="27.5" fill="#c0282d" textLength="39.9" lengthAdjust="spacingAndGlyphs">NO</text>
<line x1="3707.5" y1="868.4" x2="3676.1" y2="898.6" stroke="#000" stroke-width="2.6"/><polygon points="3664.2,910.0 3670.2,892.4 3682.0,904.8" fill="#000"/>
<line x1="3745.1" y1="869.0" x2="3775.8" y2="900.8" stroke="#000" stroke-width="2.6"/><polygon points="3787.3,912.7 3769.7,906.8 3782.0,894.9" fill="#000"/>
<rect x="3217.5" y="917.8" width="126.2" height="71.4" fill="#fff" stroke="#5b9bd5" stroke-width="2.4" />
<text x="3225.7" y="946.0" font-family="'Liberation Sans', sans-serif" font-size="22" fill="#000" textLength="92.6" lengthAdjust="spacingAndGlyphs">Strategic</text>
<text x="3225.7" y="977.6" font-family="'Liberation Sans', sans-serif" font-size="22" fill="#000" textLength="103.7" lengthAdjust="spacingAndGlyphs">fair policy</text>
<rect x="3367.2" y="918.9" width="172.8" height="103.5" fill="#fff" stroke="#5b9bd5" stroke-width="2.4" />
<text x="3376.0" y="946.6" font-family="'Liberation Sans', sans-serif" font-size="22" fill="#000" textLength="92.5" lengthAdjust="spacingAndGlyphs">Strategic</text>
<text x="3376.0" y="977.6" font-family="'Liberation Sans', sans-serif" font-size="22" fill="#000" textLength="152.4" lengthAdjust="spacingAndGlyphs">unconstrained</text>
<text x="3376.0" y="1008.6" font-family="'Liberation Sans', sans-serif" font-size="22" fill="#000" textLength="62.6" lengthAdjust="spacingAndGlyphs">policy</text>
<rect x="3562.9" y="920.0" width="162.2" height="71.9" fill="#fff" stroke="#5b9bd5" stroke-width="2.4" />
<text x="3571.1" y="947.7" font-family="'Liberation Sans', sans-serif" font-size="22" fill="#000" textLength="144.1" lengthAdjust="spacingAndGlyphs">Non-strategic</text>
<text x="3571.1" y="979.3" font-family="'Liberation Sans', sans-serif" font-size="22" fill="#000" textLength="104.2" lengthAdjust="spacingAndGlyphs">fair policy</text>
<rect x="3750.2" y="920.0" width="174.5" height="104.1" fill="#fff" stroke="#5b9bd5" stroke-width="2.4" />
<text x="3758.4" y="947.7" font-family="'Liberation Sans', sans-serif" font-size="22" fill="#000" textLength="144.2" lengthAdjust="spacingAndGlyphs">Non-strategic</text>
<text x="3758.4" y="979.3" font-family="'Liberation Sans', sans-serif" font-size="22" fill="#000" textLength="152.5" lengthAdjust="spacingAndGlyphs">unconstrained</text>
<text x="3758.4" y="1009.8" font-family="'Liberation Sans', sans-serif" font-size="22" fill="#000" textLength="62.7" lengthAdjust="spacingAndGlyphs">policy</text>
<text x="3308.3" y="1122.3" font-family="'Liberation Serif', 'DejaVu Serif', serif" font-size="42" fill="#231f20" textLength="77.6" lengthAdjust="spacingAndGlyphs">max</text>
<text x="3306.7" y="1149.4" font-family="'Liberation Serif', 'DejaVu Serif', serif" font-size="29" fill="#231f20" textLength="80.3" lengthAdjust="spacingAndGlyphs"><tspan font-style="italic">π</tspan><tspan font-size="21" baseline-shift="-6.7" font-style="italic">a</tspan>,<tspan font-style="italic">π</tspan><tspan font-size="21" baseline-shift="-6.7" font-style="italic">b</tspan></text>
<text x="3499.6" y="1122.3" font-family="'Liberation Serif', 'DejaVu Serif', serif" font-size="42" fill="#231f20" textLength="202.3" lengthAdjust="spacingAndGlyphs">𝔼[<tspan font-style="italic">R</tspan>(<tspan font-style="italic">D</tspan>, <tspan font-style="italic">Y</tspan>)]</text>
<text x="3323.3" y="1204.9" font-family="'Liberation Serif', 'DejaVu Serif', serif" font-size="42" fill="#b4545c" textLength="51.0" lengthAdjust="spacingAndGlyphs">s.t.</text>
<text x="3431.4" y="1204.9" font-family="'Liberation Serif', 'DejaVu Serif', serif" font-size="42" fill="#b4545c" textLength="340.9" lengthAdjust="spacingAndGlyphs">fairness constraint</text>
<rect x="118.7" y="1421.8" width="616.3" height="517.3" fill="#fff" stroke="#9dc3e6" stroke-width="4" />
<text x="239.0" y="1460.3" font-family="'Liberation Sans', sans-serif" font-size="33.5" fill="#000" font-weight="bold" textLength="376.1" lengthAdjust="spacingAndGlyphs">Fair machine learning</text>
<ellipse cx="417.6" cy="1551.8" rx="70" ry="81.4" fill="#dce8d0" stroke="#548235" stroke-width="1" stroke-dasharray="1.5 1.5"/>
<g stroke="#fff" stroke-width="0.8">
<g fill="#2e75b6"><ellipse cx="320.8" cy="1515.1" rx="8.0" ry="8.7"/><path d="M308.0,1538.6 V1531.5 C308.0,1525.1 313.2,1522.5 317.7,1522.5 L320.8,1524.8 L323.9,1522.5 C328.5,1522.5 333.6,1525.1 333.6,1531.5 V1538.6 Z"/></g>
</g>
<g stroke="#fff" stroke-width="0.8">
<g fill="#2e75b6"><ellipse cx="300.1" cy="1522.4" rx="8.2" ry="8.9"/><path d="M288.7,1546.5 V1539.2 C288.7,1532.6 293.3,1530.0 297.4,1530.0 L300.1,1532.3 L302.9,1530.0 C307.0,1530.0 311.6,1532.6 311.6,1539.2 V1546.5 Z"/></g>
</g>
<g stroke="#fff" stroke-width="0.8">
<g fill="#2e75b6"><ellipse cx="314.6" cy="1534.3" rx="8.2" ry="8.9"/><path d="M301.4,1558.4 V1551.1 C301.4,1544.5 306.7,1541.9 311.5,1541.9 L314.6,1544.2 L317.8,1541.9 C322.6,1541.9 327.8,1544.5 327.8,1551.1 V1558.4 Z"/></g>
</g>
<g stroke="#fff" stroke-width="0.8">
<g fill="#2e75b6"><ellipse cx="336.4" cy="1567.9" rx="8.0" ry="8.7"/><path d="M321.7,1591.4 V1584.3 C321.7,1577.9 327.6,1575.3 332.9,1575.3 L336.4,1577.6 L340.0,1575.3 C345.3,1575.3 351.2,1577.9 351.2,1584.3 V1591.4 Z"/></g>
</g>
<g stroke="#fff" stroke-width="0.8">
<g fill="#2e75b6"><ellipse cx="390.3" cy="1517.0" rx="7.6" ry="8.3"/><path d="M377.6,1539.5 V1532.7 C377.6,1526.5 382.7,1524.1 387.3,1524.1 L390.3,1526.2 L393.4,1524.1 C398.0,1524.1 403.1,1526.5 403.1,1532.7 V1539.5 Z"/></g>
</g>
<g stroke="#fff" stroke-width="0.8">
<g fill="#2e75b6"><ellipse cx="368.1" cy="1524.0" rx="7.6" ry="8.3"/><path d="M354.2,1546.5 V1539.7 C354.2,1533.6 359.8,1531.1 364.8,1531.1 L368.1,1533.2 L371.4,1531.1 C376.4,1531.1 382.0,1533.6 382.0,1539.7 V1546.5 Z"/></g>
</g>
<g stroke="#fff" stroke-width="0.8">
<g fill="#2e75b6"><ellipse cx="401.3" cy="1556.6" rx="7.6" ry="8.3"/><path d="M388.6,1579.0 V1572.3 C388.6,1566.1 393.7,1563.6 398.3,1563.6 L401.3,1565.8 L404.4,1563.6 C409.0,1563.6 414.1,1566.1 414.1,1572.3 V1579.0 Z"/></g>
</g>
<g stroke="#fff" stroke-width="0.8">
<g fill="#2e75b6"><ellipse cx="379.1" cy="1562.5" rx="7.9" ry="8.6"/><path d="M365.2,1585.6 V1578.7 C365.2,1572.3 370.8,1569.8 375.8,1569.8 L379.1,1572.0 L382.4,1569.8 C387.4,1569.8 393.0,1572.3 393.0,1578.7 V1585.6 Z"/></g>
</g>
<g stroke="#fff" stroke-width="0.8">
<g fill="#e03c31"><ellipse cx="457.8" cy="1506.9" rx="8.1" ry="8.8"/><path d="M445.8,1530.7 V1523.5 C445.8,1517.0 450.6,1514.4 454.9,1514.4 L457.8,1516.7 L460.8,1514.4 C465.1,1514.4 469.9,1517.0 469.9,1523.5 V1530.7 Z"/></g>
</g>
<g stroke="#fff" stroke-width="0.8">
<g fill="#e03c31"><ellipse cx="437.0" cy="1513.9" rx="7.6" ry="8.3"/><path d="M423.8,1536.4 V1529.6 C423.8,1523.4 429.0,1521.0 433.8,1521.0 L437.0,1523.1 L440.1,1521.0 C444.9,1521.0 450.1,1523.4 450.1,1529.6 V1536.4 Z"/></g>
</g>
<g stroke="#fff" stroke-width="0.8">
<g fill="#e03c31"><ellipse cx="451.5" cy="1525.8" rx="7.6" ry="8.3"/><path d="M438.3,1548.2 V1541.5 C438.3,1535.3 443.6,1532.9 448.3,1532.9 L451.5,1535.0 L454.6,1532.9 C459.4,1532.9 464.7,1535.3 464.7,1541.5 V1548.2 Z"/></g>
</g>
<g stroke="#fff" stroke-width="0.8">
<g fill="#e03c31"><ellipse cx="466.6" cy="1562.0" rx="7.4" ry="8.1"/><path d="M454.5,1583.9 V1577.3 C454.5,1571.3 459.4,1568.9 463.7,1568.9 L466.6,1571.0 L469.6,1568.9 C473.9,1568.9 478.7,1571.3 478.7,1577.3 V1583.9 Z"/></g>
</g>
<g stroke="#fff" stroke-width="0.8">
<g fill="#e03c31"><ellipse cx="444.2" cy="1569.1" rx="7.9" ry="8.6"/><path d="M430.4,1592.2 V1585.3 C430.4,1578.9 435.9,1576.4 440.9,1576.4 L444.2,1578.6 L447.5,1576.4 C452.5,1576.4 458.1,1578.9 458.1,1585.3 V1592.2 Z"/></g>
</g>
<g stroke="#fff" stroke-width="0.8">
<g fill="#e03c31"><ellipse cx="516.8" cy="1501.7" rx="7.3" ry="8.0"/><path d="M504.3,1523.2 V1516.7 C504.3,1510.8 509.3,1508.4 513.8,1508.4 L516.8,1510.5 L519.8,1508.4 C524.3,1508.4 529.3,1510.8 529.3,1516.7 V1523.2 Z"/></g>
</g>
<g stroke="#fff" stroke-width="0.8">
<g fill="#e03c31"><ellipse cx="494.6" cy="1509.5" rx="7.6" ry="8.3"/><path d="M480.9,1532.0 V1525.2 C480.9,1519.0 486.4,1516.6 491.3,1516.6 L494.6,1518.7 L497.9,1516.6 C502.8,1516.6 508.2,1519.0 508.2,1525.2 V1532.0 Z"/></g>
</g>
<g stroke="#fff" stroke-width="0.8">
<g fill="#e03c31"><ellipse cx="556.4" cy="1529.9" rx="7.4" ry="8.1"/><path d="M543.9,1551.8 V1545.2 C543.9,1539.2 548.9,1536.8 553.4,1536.8 L556.4,1538.9 L559.4,1536.8 C563.9,1536.8 568.9,1539.2 568.9,1545.2 V1551.8 Z"/></g>
</g>
<g stroke="#fff" stroke-width="0.8">
<g fill="#e03c31"><ellipse cx="534.2" cy="1537.2" rx="7.6" ry="8.3"/><path d="M520.5,1559.7 V1552.9 C520.5,1546.8 526.0,1544.3 530.9,1544.3 L534.2,1546.4 L537.5,1544.3 C542.4,1544.3 547.8,1546.8 547.8,1552.9 V1559.7 Z"/></g>
</g>
<g stroke="#fff" stroke-width="0.8">
<g fill="#e03c31"><ellipse cx="505.1" cy="1559.7" rx="8.1" ry="8.8"/><path d="M491.1,1583.4 V1576.3 C491.1,1569.8 496.7,1567.2 501.8,1567.2 L505.1,1569.4 L508.5,1567.2 C513.6,1567.2 519.2,1569.8 519.2,1576.3 V1583.4 Z"/></g>
</g>
<rect x="227.5" y="1646.5" width="398.0" height="172.5" fill="#bdbdbd" opacity="0.55"/>
<rect x="226.0" y="1644.3" width="396.5" height="170.8" fill="#fff" stroke="#70ad47" stroke-width="3" />
<text x="286.5" y="1704.4" font-family="'Liberation Serif', 'DejaVu Serif', serif" font-size="28" fill="#000" textLength="47.9" lengthAdjust="spacingAndGlyphs">min</text>
<text x="381.0" y="1704.4" font-family="'Liberation Serif', 'DejaVu Serif', serif" font-size="28" fill="#000" font-style="italic" textLength="58.1" lengthAdjust="spacingAndGlyphs">Loss</text>
<text x="288.7" y="1749.7" font-family="'Liberation Serif', 'DejaVu Serif', serif" font-size="28" fill="#000" font-style="italic" textLength="50.6" lengthAdjust="spacingAndGlyphs">s. t.,</text>
<text x="374.5" y="1749.7" font-family="'Liberation Serif', 'DejaVu Serif', serif" font-size="29" fill="#000" textLength="27.5" lengthAdjust="spacingAndGlyphs"><tspan font-style="italic">ϕ</tspan>(</text>
<g fill="#2e75b6"><ellipse cx="419.0" cy="1730.4" rx="6.6" ry="7.1"/><path d="M405.4,1749.7 V1743.9 C405.4,1738.6 410.8,1736.5 415.7,1736.5 L419.0,1738.3 L422.3,1736.5 C427.2,1736.5 432.6,1738.6 432.6,1743.9 V1749.7 Z"/></g>
<text x="434.0" y="1749.7" font-family="'Liberation Serif', 'DejaVu Serif', serif" font-size="29" fill="#000">)</text>
<text x="451.5" y="1749.7" font-family="'Liberation Serif', 'DejaVu Serif', serif" font-size="29" fill="#000" textLength="18.5" lengthAdjust="spacingAndGlyphs">≈</text>
<text x="479.6" y="1749.7" font-family="'Liberation Serif', 'DejaVu Serif', serif" font-size="29" fill="#000" textLength="27.9" lengthAdjust="spacingAndGlyphs"><tspan font-style="italic">ϕ</tspan>(</text>
<g fill="#e03c31"><ellipse cx="524.5" cy="1730.4" rx="6.6" ry="7.1"/><path d="M510.9,1749.7 V1743.9 C510.9,1738.6 516.3,1736.5 521.2,1736.5 L524.5,1738.3 L527.8,1736.5 C532.7,1736.5 538.1,1738.6 538.1,1743.9 V1749.7 Z"/></g>
<text x="540.0" y="1749.7" font-family="'Liberation Serif', 'DejaVu Serif', serif" font-size="29" fill="#000">)</text>
<rect x="363.5" y="1763.0" width="244.2" height="39.5" fill="#ffd966" />
<text x="375.4" y="1789.3" font-family="'Liberation Serif', 'DejaVu Serif', serif" font-size="23.5" fill="#000" font-weight="bold" textLength="220.8" lengthAdjust="spacingAndGlyphs">Fairness constraint</text>
<circle cx="166.0" cy="1860.5" r="3.6" fill="#000" />
<circle cx="166.0" cy="1892.6" r="3.6" fill="#000" />
<text x="195.9" y="1867.2" font-family="'Liberation Sans', sans-serif" font-size="22.3" fill="#000" textLength="439.9" lengthAdjust="spacingAndGlyphs"><tspan font-weight="bold">Demographic parity</tspan>: equal positive rate</text>
<text x="195.9" y="1899.3" font-family="'Liberation Sans', sans-serif" font-size="22.3" fill="#000" textLength="476.4" lengthAdjust="spacingAndGlyphs"><tspan font-weight="bold">Equal Opportunity:</tspan> equal true positive rate</text>
<rect x="752.4" y="1422.9" width="615.1" height="515.5" fill="#fff" stroke="#9dc3e6" stroke-width="4" />
<text x="865.1" y="1460.2" font-family="'Liberation Sans', sans-serif" font-size="33.5" fill="#000" font-weight="bold" textLength="387.9" lengthAdjust="spacingAndGlyphs">Strategic classification</text>
<circle cx="769.2" cy="1505.5" r="5.2" fill="#000" />
<text x="789.7" y="1516.4" font-family="'Liberation Sans', sans-serif" font-size="30" fill="#000" textLength="438.7" lengthAdjust="spacingAndGlyphs">Stackelberg game formulation</text>
<text x="762.6" y="1564.4" font-family="'Liberation Sans', sans-serif" font-size="24" fill="#7f7f7f" font-style="italic" textLength="530.8" lengthAdjust="spacingAndGlyphs">Hardt et al., 2016a; Dong et al. 2018; Milli et al.,</text>
<text x="762.6" y="1593.6" font-family="'Liberation Sans', sans-serif" font-size="24" fill="#7f7f7f" font-style="italic" textLength="517.4" lengthAdjust="spacingAndGlyphs">2019; Hu et al., 2019; Braverman &amp; Garg, 2020</text>
<defs><radialGradient id="rge" cx="0.35" cy="0.3" r="0.8"><stop offset="0" stop-color="#fdfdfd"/><stop offset="0.6" stop-color="#c9cbcc"/><stop offset="1" stop-color="#7f8385"/></radialGradient></defs>
<g><ellipse cx="801.7" cy="1703.0" rx="11.4" ry="1.3" fill="#bbb"/><ellipse cx="796.7" cy="1695.0" rx="4.5" ry="7.7" fill="url(#rge)"/><ellipse cx="806.6" cy="1695.0" rx="4.5" ry="7.7" fill="url(#rge)"/><ellipse cx="788.0" cy="1680.3" rx="3.4" ry="7.0" fill="url(#rge)" transform="rotate(12 788.0 1680.3)"/><ellipse cx="815.3" cy="1680.3" rx="3.4" ry="7.0" fill="url(#rge)" transform="rotate(-12 815.3 1680.3)"/><circle cx="785.7" cy="1688.6" r="2.3" fill="#333"/><circle cx="817.6" cy="1688.6" r="2.3" fill="#333"/><ellipse cx="801.7" cy="1681.0" rx="9.1" ry="10.2" fill="url(#rge)"/><rect x="796.7" y="1675.8" width="9.9" height="2.2" fill="#333"/><ellipse cx="801.7" cy="1656.0" rx="16.3" ry="16.0" fill="url(#rge)"/><path d="M786.5,1658.2 Q801.7,1659.8 816.8,1658.2" fill="none" stroke="#8d9092" stroke-width="0.8"/><polygon points="789.1,1659.2 794.4,1659.5 792.2,1662.1" fill="#3f8fd0"/><polygon points="814.2,1659.2 808.9,1659.5 811.1,1662.1" fill="#3f8fd0"/></g>
<text x="848.6" y="1662.7" font-family="'Liberation Sans', sans-serif" font-size="24" fill="#000" textLength="98.0" lengthAdjust="spacingAndGlyphs">Classifier</text>
<text x="953.5" y="1662.7" font-family="'Liberation Serif', 'DejaVu Serif', serif" font-size="28" fill="#c00000" font-style="italic">f</text>
<rect x="836.4" y="1674.3" width="276.2" height="44.6" fill="#e2efda" />
<text x="849.3" y="1705.9" font-family="'Liberation Serif', 'DejaVu Serif', serif" font-size="25" fill="#000" textLength="249.2" lengthAdjust="spacingAndGlyphs">max Pr[<tspan font-style="italic">h</tspan>(<tspan font-style="italic">x</tspan>) = <tspan font-style="italic">f</tspan>(Δ(<tspan font-style="italic">x</tspan>))]</text>
<g fill="none" stroke="#5b9bd5" stroke-width="5" stroke-linecap="butt"><path d="M791,1768 C770,1755 770,1728 786,1716"/><path d="M810,1710 C832,1724 832,1750 815,1763"/></g><polygon points="783,1707 794,1719 779,1723" fill="#5b9bd5"/><polygon points="818,1771 807,1759 822,1755" fill="#5b9bd5"/>
<text x="846.9" y="1782.1" font-family="'Liberation Sans', sans-serif" font-size="24" fill="#000" textLength="114.8" lengthAdjust="spacingAndGlyphs">Initial data</text>
<text x="969.0" y="1782.1" font-family="'Liberation Serif', 'DejaVu Serif', serif" font-size="28" fill="#c00000" font-style="italic">x</text>
<g fill="#000"><path d="M771.8,1813.9 C774.2,1810.1 773.2,1803.3 774.2,1800.0 C775.5,1794.5 786.1,1794.5 787.5,1800.0 C788.5,1803.3 787.5,1810.1 789.8,1813.9 Z"/><path d="M769.5,1824.0 C769.5,1818.5 774.2,1817.7 778.5,1816.6 V1812.2 H783.2 V1816.6 C787.5,1817.7 792.1,1818.5 792.1,1824.0 Z"/><path d="M813.5,1813.9 C815.8,1810.1 814.8,1803.3 815.8,1800.0 C817.1,1794.5 827.8,1794.5 829.1,1800.0 C830.1,1803.3 829.1,1810.1 831.4,1813.9 Z"/><path d="M811.1,1824.0 C811.1,1818.5 815.8,1817.7 820.1,1816.6 V1812.2 H824.8 V1816.6 C829.1,1817.7 833.8,1818.5 833.8,1824.0 Z"/><path d="M780.9,1831.2 C780.9,1823.6 788.0,1821.5 796.8,1818.5 V1814.3 C792.6,1810.9 791.6,1805.9 792.0,1798.3 C792.6,1786.0 810.2,1786.0 810.8,1798.3 C811.2,1805.9 810.2,1810.9 806.5,1814.3 V1818.5 C815.3,1821.5 822.1,1823.6 822.1,1831.2 Z" stroke="#fff" stroke-width="2.3"/><path d="M780.9,1831.2 C780.9,1823.6 788.0,1821.5 796.8,1818.5 V1814.3 C792.6,1810.9 791.6,1805.9 792.0,1798.3 C792.6,1786.0 810.2,1786.0 810.8,1798.3 C811.2,1805.9 810.2,1810.9 806.5,1814.3 V1818.5 C815.3,1821.5 822.1,1823.6 822.1,1831.2 Z"/></g>
<text x="846.9" y="1815.8" font-family="'Liberation Sans', sans-serif" font-size="24" fill="#000" textLength="194.4" lengthAdjust="spacingAndGlyphs">Manipulated data</text>
<text x="1049.4" y="1815.8" font-family="'Liberation Serif', 'DejaVu Serif', serif" font-size="27" fill="#c00000" textLength="51.6" lengthAdjust="spacingAndGlyphs">Δ(<tspan font-style="italic">x</tspan>)</text>
<text x="846.9" y="1847.4" font-family="'Liberation Sans', sans-serif" font-size="24" fill="#000" textLength="46.3" lengthAdjust="spacingAndGlyphs">Cost</text>
<text x="901.3" y="1847.4" font-family="'Liberation Serif', 'DejaVu Serif', serif" font-size="27" fill="#c00000" font-style="italic" textLength="113.7" lengthAdjust="spacingAndGlyphs">c(x, Δ(x))</text>
<rect x="834.2" y="1866.3" width="279.4" height="39.7" fill="#e2efda" />
<text x="845.1" y="1893.0" font-family="'Liberation Serif', 'DejaVu Serif', serif" font-size="25" fill="#000" textLength="258.7" lengthAdjust="spacingAndGlyphs">max <tspan font-style="italic">f</tspan>(Δ(<tspan font-style="italic">x</tspan>)) − <tspan font-style="italic">c</tspan>(<tspan font-style="italic">x</tspan>, Δ(<tspan font-style="italic">x</tspan>))</text>
<g stroke="#000" stroke-width="2.2" fill="none"><path d="M1122.4,1636 V1868.4 H1348"/></g><polygon points="1122.4,1631.5 1126.6,1641 1118.2,1641" fill="#000"/><polygon points="1354.5,1868.4 1345,1864.2 1345,1872.6" fill="#000"/>
<text x="1135.4" y="1658.5" font-family="'Liberation Sans', sans-serif" font-size="20.5" fill="#385723" textLength="60.7" lengthAdjust="spacingAndGlyphs">letters</text>
<text x="1322.5" y="1854.0" font-family="'Liberation Sans', sans-serif" font-size="20.5" fill="#385723" textLength="39.3" lengthAdjust="spacingAndGlyphs">GPA</text>
<line x1="1145.9" y1="1669.0" x2="1316.9" y2="1837.5" stroke="#385723" stroke-width="1.6" stroke-dasharray="6 3.5"/>
<circle cx="1203.9" cy="1692.9" r="8.3" fill="#ed7d31" stroke="#c55a11" stroke-width="0.8"/>
<circle cx="1256.5" cy="1688.4" r="8.3" fill="#ed7d31" stroke="#c55a11" stroke-width="0.8"/>
<circle cx="1182.1" cy="1719.2" r="8.3" fill="#ed7d31" stroke="#c55a11" stroke-width="0.8"/>
<circle cx="1261.8" cy="1742.1" r="8.3" fill="#ed7d31" stroke="#c55a11" stroke-width="0.8"/>
<circle cx="1300.4" cy="1741.0" r="8.3" fill="#ed7d31" stroke="#c55a11" stroke-width="0.8"/>
<circle cx="1327.4" cy="1771.5" r="8.3" fill="#ed7d31" stroke="#c55a11" stroke-width="0.8"/>
<circle cx="1295.8" cy="1785.6" r="8.3" fill="#ed7d31" stroke="#c55a11" stroke-width="0.8"/>
<circle cx="1325.6" cy="1811.2" r="8.3" fill="#ed7d31" stroke="#c55a11" stroke-width="0.8"/>
<circle cx="1203.9" cy="1739.2" r="8.3" fill="#4472c4" stroke="#2f5597" stroke-width="0.8"/>
<circle cx="1234.7" cy="1769.8" r="8.3" fill="#4472c4" stroke="#2f5597" stroke-width="0.8"/>
<circle cx="1273.3" cy="1806.6" r="8.3" fill="#4472c4" stroke="#2f5597" stroke-width="0.8"/>
<circle cx="1154.0" cy="1786.6" r="8.3" fill="#4472c4" stroke="#2f5597" stroke-width="0.8"/>
<circle cx="1167.0" cy="1845.2" r="8.3" fill="#4472c4" stroke="#2f5597" stroke-width="0.8"/>
<circle cx="1216.1" cy="1844.5" r="8.3" fill="#4472c4" stroke="#2f5597" stroke-width="0.8"/>
<circle cx="1157.2" cy="1743.8" r="7.8" fill="none" stroke="#ed7d31" stroke-width="1.2" stroke-dasharray="3 2"/>
<circle cx="1179.3" cy="1765.6" r="7.8" fill="none" stroke="#4472c4" stroke-width="1.2" stroke-dasharray="3 2"/>
<circle cx="1212.6" cy="1792.9" r="7.8" fill="none" stroke="#4472c4" stroke-width="1.2" stroke-dasharray="3 2"/>
<circle cx="1248.4" cy="1832.3" r="7.8" fill="none" stroke="#4472c4" stroke-width="1.2" stroke-dasharray="3 2"/>
<line x1="1163.5" y1="1737.5" x2="1170.6" y2="1731.0" stroke="#385723" stroke-width="2"/><polygon points="1176.5,1725.6 1173.4,1734.0 1167.8,1727.9" fill="#385723"/>
<line x1="1185.6" y1="1758.6" x2="1192.8" y2="1751.8" stroke="#385723" stroke-width="2"/><polygon points="1198.6,1746.3 1195.6,1754.8 1189.9,1748.7" fill="#385723"/>
<line x1="1218.9" y1="1786.6" x2="1225.1" y2="1780.9" stroke="#385723" stroke-width="2"/><polygon points="1230.9,1775.4 1227.9,1783.9 1222.2,1777.9" fill="#385723"/>
<line x1="1254.7" y1="1826.3" x2="1263.0" y2="1818.5" stroke="#385723" stroke-width="2"/><polygon points="1268.8,1813.0 1265.9,1821.5 1260.1,1815.4" fill="#385723"/>
<circle cx="1438.2" cy="1444.7" r="8.5" fill="#231f20" />
<text x="1470.0" y="1455.2" font-family="'Liberation Serif', 'DejaVu Serif', serif" font-size="42" fill="#231f20" textLength="513.6" lengthAdjust="spacingAndGlyphs">Most  works  studied  these</text>
<text x="1428.4" y="1505.5" font-family="'Liberation Serif', 'DejaVu Serif', serif" font-size="42" fill="#231f20" textLength="458.1" lengthAdjust="spacingAndGlyphs">two problems separately</text>
<circle cx="1438.2" cy="1559.3" r="8.5" fill="#231f20" />
<text x="1471.3" y="1569.8" font-family="'Liberation Serif', 'DejaVu Serif', serif" font-size="42" fill="#231f20" textLength="512.3" lengthAdjust="spacingAndGlyphs">Existing  Stackelberg  game</text>
<text x="1428.4" y="1620.9" font-family="'Liberation Serif', 'DejaVu Serif', serif" font-size="42" fill="#231f20" textLength="402.2" lengthAdjust="spacingAndGlyphs">formulation assumes:</text>
<line x1="1493.0" y1="1682.2" x2="1513.0" y2="1682.2" stroke="#231f20" stroke-width="2" />
<text x="1533.3" y="1692.2" font-family="'Liberation Serif', 'DejaVu Serif', serif" font-size="38" fill="#231f20" textLength="450.3" lengthAdjust="spacingAndGlyphs">Manipulation  outcome  is</text>
<text x="1533.3" y="1739.4" font-family="'Liberation Serif', 'DejaVu Serif', serif" font-size="38" fill="#d7302f" textLength="386.9" lengthAdjust="spacingAndGlyphs">deterministic &amp; known</text>
<line x1="1493.0" y1="1784.0" x2="1513.0" y2="1784.0" stroke="#231f20" stroke-width="2" />
<text x="1533.3" y="1794.0" font-family="'Liberation Serif', 'DejaVu Serif', serif" font-size="38" fill="#231f20" textLength="450.3" lengthAdjust="spacingAndGlyphs">Manipulation cost is a <tspan fill="#d7302f">de-</tspan></text>
<text x="1533.3" y="1844.3" font-family="'Liberation Serif', 'DejaVu Serif', serif" font-size="38" fill="#231f20" textLength="450.3" lengthAdjust="spacingAndGlyphs"><tspan fill="#d7302f">terministic function</tspan> of fea-</text>
<text x="1533.3" y="1895.4" font-family="'Liberation Serif', 'DejaVu Serif', serif" font-size="38" fill="#231f20" textLength="450.3" lengthAdjust="spacingAndGlyphs">tures before &amp; after manip-</text>
<text x="1533.3" y="1945.7" font-family="'Liberation Serif', 'DejaVu Serif', serif" font-size="38" fill="#231f20" textLength="118.9" lengthAdjust="spacingAndGlyphs">ulation</text>
<circle cx="2089.5" cy="1428.3" r="8.5" fill="#231f20" />
<text x="2110.2" y="1438.8" font-family="'Liberation Serif', 'DejaVu Serif', serif" font-size="42" fill="#231f20" textLength="1766.9" lengthAdjust="spacingAndGlyphs">Characterize the equilibrium strategies of individuals &amp; decision-maker (four types of policies)</text>
<circle cx="2089.5" cy="1478.1" r="8.5" fill="#231f20" />
<text x="2110.2" y="1488.6" font-family="'Liberation Serif', 'DejaVu Serif', serif" font-size="42" fill="#231f20" textLength="1221.3" lengthAdjust="spacingAndGlyphs">Impact of decision-maker’s anticipation of strategic manipulation</text>
<line x1="2141.3" y1="1543.0" x2="2161.3" y2="1543.0" stroke="#231f20" stroke-width="2" />
<text x="2183.0" y="1553.0" font-family="'Liberation Serif', 'DejaVu Serif', serif" font-size="38" fill="#231f20" textLength="1557.1" lengthAdjust="spacingAndGlyphs">Strategic policy <tspan fill="#d7302f">over</tspan>(<tspan fill="#262a8c">under</tspan>) accepts <tspan fill="#d7302f">majority-qualified</tspan>(<tspan fill="#262a8c">majority-unqualified</tspan>) group</text>
<line x1="2141.3" y1="1597.6" x2="2161.3" y2="1597.6" stroke="#231f20" stroke-width="2" />
<text x="2184.4" y="1607.6" font-family="'Liberation Serif', 'DejaVu Serif', serif" font-size="38" fill="#231f20" textLength="1812.8" lengthAdjust="spacingAndGlyphs">Anticipation  of  manipulation  can  <tspan font-weight="bold">worsen</tspan>  the  fairness  of  a  strategic  policy  when  one  group  is</text>
<text x="2184.4" y="1658.7" font-family="'Liberation Serif', 'DejaVu Serif', serif" font-size="38" fill="#231f20" textLength="1067.9" lengthAdjust="spacingAndGlyphs"><tspan fill="#d7302f">majority-qualified</tspan> while the other is <tspan fill="#262a8c">majority-unqualified</tspan></text>
<line x1="2141.3" y1="1703.4" x2="2161.3" y2="1703.4" stroke="#231f20" stroke-width="2" />
<text x="2184.4" y="1713.4" font-family="'Liberation Serif', 'DejaVu Serif', serif" font-size="38" fill="#231f20" textLength="1812.8" lengthAdjust="spacingAndGlyphs">When both groups are <tspan fill="#262a8c">majority-unqualified</tspan>, a strategic policy may <tspan font-weight="bold">mitigate</tspan> unfairness and even</text>
<text x="2184.4" y="1763.1" font-family="'Liberation Serif', 'DejaVu Serif', serif" font-size="38" fill="#231f20" font-weight="bold" textLength="551.7" lengthAdjust="spacingAndGlyphs">flip the disadvantaged group</text>
<circle cx="2089.5" cy="1817.0" r="8.5" fill="#231f20" />
<text x="2110.2" y="1827.5" font-family="'Liberation Serif', 'DejaVu Serif', serif" font-size="42" fill="#231f20" textLength="1383.1" lengthAdjust="spacingAndGlyphs">Impact of fairness interventions on policies and individuals’ manipulation</text>
<line x1="2141.3" y1="1880.6" x2="2161.3" y2="1880.6" stroke="#231f20" stroke-width="2" />
<text x="2183.0" y="1890.6" font-family="'Liberation Serif', 'DejaVu Serif', serif" font-size="38" fill="#231f20" textLength="1729.7" lengthAdjust="spacingAndGlyphs">Conditions under which non-strategic decision maker may <tspan font-weight="bold">benefit from fairness constraints</tspan></text>
<line x1="2141.3" y1="1935.3" x2="2161.3" y2="1935.3" stroke="#231f20" stroke-width="2" />
<text x="2183.0" y="1945.3" font-family="'Liberation Serif', 'DejaVu Serif', serif" font-size="38" fill="#231f20" textLength="1814.2" lengthAdjust="spacingAndGlyphs">Conditions under which fairness intervention serves as <tspan font-weight="bold">(dis)incentives</tspan> for strategic manipulation</text>
<path d="M109.4,2311.7 A47.9,40.9 0 0 1 181.1,2270.9 A37.8,32.3 0 0 1 241.0,2263.1 A31.0,26.4 0 0 1 293.4,2258.8 A34.5,29.3 0 0 1 353.6,2272.6 A37.8,32.4 0 0 1 378.4,2316.6 A48.1,41.0 0 0 1 347.1,2382.2 A41.0,35.0 0 0 1 284.3,2411.6 A47.9,41.0 0 0 1 198.6,2422.5 A54.8,46.9 0 0 1 122.9,2405.6 A30.9,26.3 0 0 1 96.7,2361.5 A30.8,26.4 0 0 1 109.1,2312.3Z" fill="#d6dff0" />
<circle cx="347.8" cy="2421.2" r="15.5" fill="#d6dff0" />
<circle cx="366.5" cy="2433.6" r="10.0" fill="#d6dff0" />
<circle cx="376.4" cy="2440.0" r="5.0" fill="#d6dff0" />
<path d="M513.2,2230.4 A47.6,40.9 0 0 1 584.4,2189.6 A37.6,32.3 0 0 1 644.0,2181.8 A30.8,26.4 0 0 1 696.0,2177.5 A34.2,29.3 0 0 1 755.8,2191.3 A37.6,32.4 0 0 1 780.5,2235.3 A47.8,41.0 0 0 1 749.3,2300.9 A40.8,35.0 0 0 1 687.0,2330.3 A47.6,41.0 0 0 1 601.9,2341.2 A54.4,46.9 0 0 1 526.6,2324.3 A30.7,26.3 0 0 1 500.6,2280.2 A30.6,26.4 0 0 1 512.9,2231.0Z" fill="#d6dff0" />
<circle cx="539.9" cy="2347.3" r="15.5" fill="#d6dff0" stroke="#c5d0ea" stroke-width="1"/>
<circle cx="521.7" cy="2363.1" r="10.5" fill="#d6dff0" />
<circle cx="512.8" cy="2371.0" r="5.0" fill="#d6dff0" />
<g transform="translate(30,2000) scale(0.49268)">
</g><g transform="translate(60,2150) scale(0.33102)" fill="#000">
<circle cx="388" cy="448" r="45"/><polygon points="350,512 428,512 470,548 458,568 312,568 300,548" stroke="#000" stroke-width="14" stroke-linejoin="round"/><rect x="260" y="579" width="257" height="30"/><rect x="274" y="609" width="9" height="132"/><rect x="494" y="609" width="9" height="132"/><rect x="324" y="644" width="132" height="11"/><rect x="328" y="655" width="8" height="86"/><rect x="444" y="655" width="8" height="86"/><g fill="none" stroke="#000" stroke-width="30" stroke-linecap="round" stroke-linejoin="round"><path d="M352,618 L340,690 L372,716"/><path d="M428,618 L440,690 L408,716"/></g>
<circle cx="588" cy="462" r="45"/><polygon points="583,548 630,508 678,506 748,548 740,568 596,568" stroke="#000" stroke-width="14" stroke-linejoin="round"/><rect x="540" y="579" width="255" height="30"/><rect x="554" y="609" width="9" height="132"/><rect x="772" y="609" width="9" height="132"/><rect x="601" y="644" width="132" height="11"/><rect x="605" y="655" width="8" height="86"/><rect x="721" y="655" width="8" height="86"/><g fill="none" stroke="#000" stroke-width="30" stroke-linecap="round" stroke-linejoin="round"><path d="M629,618 L617,690 L649,716"/><path d="M705,618 L717,690 L685,716"/></g>
</g><g transform="translate(30,2000) scale(0.49268)">
<rect x="1027" y="537" width="30" height="63" fill="#455a64"/><path d="M1057,545 C1090,540 1120,548 1150,556 C1175,560 1200,535 1222,545 C1215,570 1170,600 1130,600 C1100,600 1075,592 1057,592 Z" fill="#f2c48d"/><rect x="1103" y="498" width="72" height="58" rx="6" fill="#f9c22e"/><g stroke="#e0a106" stroke-width="3"><line x1="1103" y1="512" x2="1175" y2="512"/><line x1="1103" y1="526" x2="1175" y2="526"/><line x1="1103" y1="540" x2="1175" y2="540"/></g><circle cx="1140" cy="463" r="35" fill="#fbc531"/><circle cx="1140" cy="463" r="26" fill="none" stroke="#e0a106" stroke-width="3"/>
<text x="1140" y="477" font-family="'Liberation Sans', sans-serif" font-weight="bold" font-size="40" text-anchor="middle" fill="#e0a106">$</text>
<polygon points="1262,408 1330,383 1400,408 1330,433" fill="#000"/><rect x="1388" y="410" width="5" height="45" fill="#000"/><rect x="1385" y="450" width="11" height="16" fill="#000"/><path d="M1288,425 V450 C1280,480 1300,512 1330,512 C1360,512 1380,480 1372,450 V425 Z" fill="#000"/><path d="M1238,603 V570 C1238,548 1270,538 1300,522 L1330,560 L1360,522 C1390,538 1425,548 1425,570 V603 Z" fill="#000"/><polygon points="1352,585 1345,617 1360,607 1372,590" fill="#1e88e5"/><polygon points="1390,585 1398,617 1383,607 1372,590" fill="#1e88e5"/><circle cx="1373" cy="567" r="25" fill="#1e88e5"/><circle cx="1373" cy="567" r="17" fill="#1565c0"/><polygon points="1373,554 1377,563 1387,564 1380,570 1382,580 1373,575 1364,580 1366,570 1359,564 1369,563" fill="#0d1b3d"/>
<ellipse cx="847" cy="795" rx="46" ry="50" fill="#f5c9a3"/><path d="M800,800 C790,750 820,732 850,735 C885,735 902,760 895,795 C885,775 860,765 835,772 C815,777 808,790 800,800 Z" fill="#4a2419"/><ellipse cx="800" cy="808" rx="8" ry="12" fill="#f0b48a"/><ellipse cx="895" cy="808" rx="8" ry="12" fill="#f0b48a"/><ellipse cx="836" cy="803" rx="3.5" ry="5" fill="#3b2314"/><ellipse cx="868" cy="803" rx="3.5" ry="5" fill="#3b2314"/><path d="M832,822 Q852,850 874,822 Z" fill="#b03a2e"/><path d="M836,823 Q852,832 870,823 Z" fill="#fff"/><path d="M815,870 C820,855 870,852 880,865 L885,960 H822 Z" fill="#2aa5b5"/><path d="M818,880 L806,915 L840,925 L845,905 Z" fill="#2aa5b5"/><rect x="826" y="955" width="22" height="105" fill="#2b2d6e"/><rect x="850" y="955" width="22" height="105" fill="#2b2d6e"/><ellipse cx="842" cy="1072" rx="16" ry="8" fill="#6a3d9a"/><ellipse cx="870" cy="1072" rx="16" ry="8" fill="#6a3d9a"/><circle cx="875" cy="878" r="20" fill="#f1c40f"/><rect x="845" y="880" width="60" height="30" fill="#5dade2"/><rect x="855" y="875" width="14" height="30" fill="#ecf0f1"/><circle cx="893" cy="888" r="10" fill="#85c1e9" stroke="#fff" stroke-width="2"/><rect x="840" y="905" width="70" height="72" rx="10" fill="#8b5a2b"/><rect x="840" y="905" width="70" height="26" rx="8" fill="#6e4520"/><rect x="858" y="918" width="34" height="6" fill="#f1c40f"/><rect x="858" y="955" width="34" height="6" fill="#f1c40f"/>
<rect x="1162" y="787" width="150" height="130" rx="10" fill="#e8eaf6" stroke="#111" stroke-width="4"/>
<text x="1176" y="836" font-family="'Liberation Sans', sans-serif" font-size="41" textLength="122" lengthAdjust="spacingAndGlyphs" fill="#111">EXAM</text>
<g fill="#e74c3c" stroke="#111" stroke-width="2.5"><circle cx="1187" cy="851" r="6"/><circle cx="1187" cy="874" r="6"/><circle cx="1187" cy="896" r="6"/></g><g stroke="#111" stroke-width="4"><line x1="1200" y1="851" x2="1250" y2="851"/><line x1="1200" y1="874" x2="1290" y2="874"/><line x1="1200" y1="896" x2="1235" y2="896"/></g><g transform="rotate(-45 1282 847)"><rect x="1222" y="838" width="100" height="18" fill="#f7c948" stroke="#111" stroke-width="3"/><polygon points="1222,838 1204,847 1222,856" fill="#f5deb3" stroke="#111" stroke-width="3"/><rect x="1322" y="838" width="14" height="18" fill="#e67e22" stroke="#111" stroke-width="3"/></g>
</g>
<rect x="523.7" y="2462.1" width="236.0" height="7.0" fill="#70ad47" />
<polygon points="757.7,2448.6 788.7,2465.6 757.7,2482.6" fill="#70ad47"/>
<g><rect x="875.7" y="2401.5" width="1.6" height="12.6" fill="#000"/><rect x="876.1" y="2401.5" width="9.0" height="5.7" fill="#000"/><path d="M848.6,2431.0 V2421.2 H859.9 Q870.7,2417.9 876.8,2413.0 Q882.6,2417.9 893.4,2421.2 H905.4 V2431.0 Z" fill="#000"/><rect x="816.8" y="2430.6" width="119.7" height="6.3" fill="#000"/><circle cx="876.5" cy="2427.1" r="5.7" fill="#fff"/><rect x="820.4" y="2440.2" width="113.1" height="70.7" fill="#000"/><rect x="827.9" y="2446.8" width="13.5" height="10.4" fill="#fff"/><rect x="848.6" y="2446.8" width="13.5" height="10.4" fill="#fff"/><rect x="870.4" y="2446.8" width="13.5" height="10.4" fill="#fff"/><rect x="891.1" y="2446.8" width="13.5" height="10.4" fill="#fff"/><rect x="912.9" y="2446.8" width="13.5" height="10.4" fill="#fff"/><rect x="827.9" y="2467.7" width="13.5" height="10.4" fill="#fff"/><rect x="848.6" y="2467.7" width="13.5" height="10.4" fill="#fff"/><rect x="870.4" y="2467.7" width="13.5" height="10.4" fill="#fff"/><rect x="891.1" y="2467.7" width="13.5" height="10.4" fill="#fff"/><rect x="912.9" y="2467.7" width="13.5" height="10.4" fill="#fff"/><rect x="827.9" y="2487.4" width="13.5" height="10.4" fill="#fff"/><rect x="848.6" y="2487.4" width="13.5" height="10.4" fill="#fff"/><rect x="891.1" y="2487.4" width="13.5" height="10.4" fill="#fff"/><rect x="912.9" y="2487.4" width="13.5" height="10.4" fill="#fff"/><polygon points="856.8,2510.9 895.3,2510.9 886.8,2498.9 866.8,2498.9" fill="#fff"/><rect x="868.3" y="2487.4" width="17.1" height="11.5" fill="#fff"/><polygon points="864.7,2487.9 876.5,2480.3 888.6,2487.9" fill="#fff"/><rect x="864.7" y="2487.4" width="23.9" height="1.3" fill="#000"/><rect x="870.8" y="2488.7" width="11.7" height="10.2" fill="#000"/></g>
<rect x="114.7" y="2592.7" width="779.9" height="66.5" fill="#dce5f3" />
<text x="139.4" y="2635.6" font-family="'Liberation Serif', 'DejaVu Serif', serif" font-size="42" fill="#231f20" font-weight="bold" textLength="401.5" lengthAdjust="spacingAndGlyphs">Motivating Example:</text>
<text x="554.7" y="2635.6" font-family="'Liberation Serif', 'DejaVu Serif', serif" font-size="42" fill="#231f20" textLength="325.2" lengthAdjust="spacingAndGlyphs">students cheat on</text>
<rect x="189.6" y="2664.1" width="629.2" height="67.5" fill="#dce5f3" />
<text x="203.4" y="2706.0" font-family="'Liberation Serif', 'DejaVu Serif', serif" font-size="42" fill="#231f20" textLength="601.6" lengthAdjust="spacingAndGlyphs">exams to get admitted to college</text>
<circle cx="1033.1" cy="2152.0" r="8.5" fill="#231f20" />
<text x="1055.2" y="2162.5" font-family="'Liberation Serif', 'DejaVu Serif', serif" font-size="42" fill="#231f20" textLength="703.2" lengthAdjust="spacingAndGlyphs">A new Stackelberg game formulation:</text>
<line x1="1087.7" y1="2216.5" x2="1107.7" y2="2216.5" stroke="#231f20" stroke-width="2" />
<text x="1128.0" y="2226.5" font-family="'Liberation Serif', 'DejaVu Serif', serif" font-size="38" fill="#231f20" textLength="573.8" lengthAdjust="spacingAndGlyphs"><tspan fill="#d7302f">Uncertain</tspan> manipulation outcomes</text>
<line x1="1087.7" y1="2271.7" x2="1107.7" y2="2271.7" stroke="#231f20" stroke-width="2" />
<text x="1128.0" y="2281.7" font-family="'Liberation Serif', 'DejaVu Serif', serif" font-size="38" fill="#231f20" textLength="854.5" lengthAdjust="spacingAndGlyphs">Manipulation  cost  is  determined  before  observing</text>
<text x="1128.0" y="2332.4" font-family="'Liberation Serif', 'DejaVu Serif', serif" font-size="38" fill="#231f20" textLength="397.5" lengthAdjust="spacingAndGlyphs">manipulation outcomes</text>
<circle cx="1033.1" cy="2405.7" r="8.5" fill="#231f20" />
<text x="1064.0" y="2416.2" font-family="'Liberation Serif', 'DejaVu Serif', serif" font-size="42" fill="#231f20" textLength="918.5" lengthAdjust="spacingAndGlyphs">Understand  the  impacts  <tspan fill="#d7302f">strategic  manipulation</tspan></text>
<text x="1023.1" y="2466.9" font-family="'Liberation Serif', 'DejaVu Serif', serif" font-size="42" fill="#231f20" textLength="827.4" lengthAdjust="spacingAndGlyphs">and <tspan fill="#262a8c">fairness intervention</tspan> have on each other</text>
<rect x="1046.8" y="2570.3" width="338.8" height="125.6" fill="#e2efda" />
<text x="1133.0" y="2617.1" font-family="'Liberation Sans', sans-serif" font-size="39.5" fill="#000" font-weight="bold" textLength="165.9" lengthAdjust="spacingAndGlyphs">Strategic</text>
<text x="1087.7" y="2672.3" font-family="'Liberation Sans', sans-serif" font-size="39.5" fill="#000" font-weight="bold" textLength="256.1" lengthAdjust="spacingAndGlyphs">Manipulation</text>
<rect x="1670.8" y="2566.4" width="285.6" height="125.6" fill="#ffe082" />
<text x="1736.3" y="2614.1" font-family="'Liberation Sans', sans-serif" font-size="39.5" fill="#000" font-weight="bold" textLength="152.7" lengthAdjust="spacingAndGlyphs">Fairness</text>
<text x="1715.1" y="2669.8" font-family="'Liberation Sans', sans-serif" font-size="39.5" fill="#000" font-weight="bold" textLength="195.0" lengthAdjust="spacingAndGlyphs">Constraint</text>
<defs><linearGradient id="agt1" x1="0" y1="0" x2="1" y2="0"><stop offset="0" stop-color="#74abe0"/><stop offset="1" stop-color="#3f86cc"/></linearGradient></defs>
<path d="M1413.7,2584.8 Q1526.5,2498.4 1601.3,2566.5 L1624.5,2562.6 L1609.3,2596.0 L1563.8,2575.1 L1582.3,2574.2 Q1530.5,2520.6 1424.7,2590.4 Z" fill="url(#agt1)"/>
<defs><linearGradient id="agt2" x1="1" y1="0" x2="0" y2="0"><stop offset="0" stop-color="#74abe0"/><stop offset="1" stop-color="#3f86cc"/></linearGradient></defs>
<path d="M1623.0,2665.2 Q1513.6,2751.6 1441.1,2683.5 L1418.6,2687.4 L1433.3,2654.0 L1477.5,2674.9 L1459.5,2675.8 Q1509.8,2729.4 1612.4,2659.6 Z" fill="url(#agt2)"/>
<circle cx="2090.5" cy="2154.5" r="8.5" fill="#231f20" />
<text x="2110.0" y="2165.0" font-family="'Liberation Serif', 'DejaVu Serif', serif" font-size="38" fill="#231f20" textLength="924.1" lengthAdjust="spacingAndGlyphs"><tspan font-weight="bold" font-style="italic">Hispanic &amp; Black</tspan>: strategic policy mitigates unfairness</text>
<defs><clipPath id="cp1"><rect x="2285" y="2220" width="295.6999999999998" height="228.69999999999982"/></clipPath>
<clipPath id="cp2"><rect x="2638.7" y="2220" width="296.2000000000003" height="228.5999999999999"/></clipPath></defs>
<rect x="2285.0" y="2220.0" width="295.7" height="228.7" fill="#fff" stroke="#000" stroke-width="1.5" />
<text x="2432.8" y="2211.6" font-family="'DejaVu Sans', sans-serif" font-size="17" fill="#000" text-anchor="middle">DP</text>
<line x1="2280.0" y1="2234.3" x2="2285.0" y2="2234.3" stroke="#000" stroke-width="1.2" />
<text x="2275.5" y="2239.6" font-family="'DejaVu Sans', sans-serif" font-size="14.4" fill="#000" text-anchor="end">0.3</text>
<line x1="2280.0" y1="2298.8" x2="2285.0" y2="2298.8" stroke="#000" stroke-width="1.2" />
<text x="2275.5" y="2304.1" font-family="'DejaVu Sans', sans-serif" font-size="14.4" fill="#000" text-anchor="end">0.2</text>
<line x1="2280.0" y1="2363.4" x2="2285.0" y2="2363.4" stroke="#000" stroke-width="1.2" />
<text x="2275.5" y="2368.7" font-family="'DejaVu Sans', sans-serif" font-size="14.4" fill="#000" text-anchor="end">0.1</text>
<line x1="2280.0" y1="2428.3" x2="2285.0" y2="2428.3" stroke="#000" stroke-width="1.2" />
<text x="2275.5" y="2433.6" font-family="'DejaVu Sans', sans-serif" font-size="14.4" fill="#000" text-anchor="end">0.0</text>
<line x1="2347.4" y1="2448.7" x2="2347.4" y2="2453.7" stroke="#000" stroke-width="1.2" />
<text x="2347.4" y="2469.7" font-family="'DejaVu Sans', sans-serif" font-size="14.4" fill="#000" text-anchor="middle">5</text>
<line x1="2424.7" y1="2448.7" x2="2424.7" y2="2453.7" stroke="#000" stroke-width="1.2" />
<text x="2424.7" y="2469.7" font-family="'DejaVu Sans', sans-serif" font-size="14.4" fill="#000" text-anchor="middle">10</text>
<line x1="2502.6" y1="2448.7" x2="2502.6" y2="2453.7" stroke="#000" stroke-width="1.2" />
<text x="2502.6" y="2469.7" font-family="'DejaVu Sans', sans-serif" font-size="14.4" fill="#000" text-anchor="middle">15</text>
<line x1="2580.7" y1="2448.7" x2="2580.7" y2="2453.7" stroke="#000" stroke-width="1.2" />
<text x="2580.7" y="2469.7" font-family="'DejaVu Sans', sans-serif" font-size="14.4" fill="#000" text-anchor="middle">20</text>
<text x="2400.0" y="2480.2" font-family="'DejaVu Sans', sans-serif" font-size="18.4" fill="#000" font-style="italic" text-anchor="middle">w</text>
<line x1="2285.0" y1="2428.3" x2="2580.7" y2="2428.3" stroke="#000" stroke-width="2.1" stroke-dasharray="11 4.8"/>
<g clip-path="url(#cp1)"><path d="M2285.0,2292.7 L2300.6,2292.7 L2316.1,2292.7 L2331.7,2292.7 L2347.3,2292.7 L2362.8,2292.7 L2378.4,2292.7 L2393.9,2292.7 L2409.5,2292.7 L2425.1,2292.7 L2440.6,2292.7 L2456.2,2292.7 L2471.8,2292.7 L2487.3,2292.7 L2502.9,2292.7 L2518.4,2292.7 L2534.0,2292.7 L2549.6,2292.7 L2565.1,2292.7 L2580.7,2292.7" fill="none" stroke="#ff0000" stroke-width="2.3"/><circle cx="2285.0" cy="2292.7" r="4.6" fill="#ff0000"/><circle cx="2300.6" cy="2292.7" r="4.6" fill="#ff0000"/><circle cx="2316.1" cy="2292.7" r="4.6" fill="#ff0000"/><circle cx="2331.7" cy="2292.7" r="4.6" fill="#ff0000"/><circle cx="2347.3" cy="2292.7" r="4.6" fill="#ff0000"/><circle cx="2362.8" cy="2292.7" r="4.6" fill="#ff0000"/><circle cx="2378.4" cy="2292.7" r="4.6" fill="#ff0000"/><circle cx="2393.9" cy="2292.7" r="4.6" fill="#ff0000"/><circle cx="2409.5" cy="2292.7" r="4.6" fill="#ff0000"/><circle cx="2425.1" cy="2292.7" r="4.6" fill="#ff0000"/><circle cx="2440.6" cy="2292.7" r="4.6" fill="#ff0000"/><circle cx="2456.2" cy="2292.7" r="4.6" fill="#ff0000"/><circle cx="2471.8" cy="2292.7" r="4.6" fill="#ff0000"/><circle cx="2487.3" cy="2292.7" r="4.6" fill="#ff0000"/><circle cx="2502.9" cy="2292.7" r="4.6" fill="#ff0000"/><circle cx="2518.4" cy="2292.7" r="4.6" fill="#ff0000"/><circle cx="2534.0" cy="2292.7" r="4.6" fill="#ff0000"/><circle cx="2549.6" cy="2292.7" r="4.6" fill="#ff0000"/><circle cx="2565.1" cy="2292.7" r="4.6" fill="#ff0000"/><circle cx="2580.7" cy="2292.7" r="4.6" fill="#ff0000"/></g>
<g clip-path="url(#cp1)"><path d="M2285.0,2230.5 L2300.6,2272.5 L2316.1,2300.7 L2331.7,2321.7 L2347.3,2338.9 L2362.8,2352.9 L2378.4,2364.5 L2393.9,2374.8 L2409.5,2383.8 L2425.1,2391.4 L2440.6,2398.5 L2456.2,2404.8 L2471.8,2410.5 L2487.3,2415.5 L2502.9,2420.1 L2518.4,2424.3 L2534.0,2428.1 L2549.6,2431.9 L2565.1,2435.1 L2580.7,2438.2" fill="none" stroke="#0000ff" stroke-width="2.3"/><circle cx="2285.0" cy="2230.5" r="4.6" fill="#0000ff"/><circle cx="2300.6" cy="2272.5" r="4.6" fill="#0000ff"/><circle cx="2316.1" cy="2300.7" r="4.6" fill="#0000ff"/><circle cx="2331.7" cy="2321.7" r="4.6" fill="#0000ff"/><circle cx="2347.3" cy="2338.9" r="4.6" fill="#0000ff"/><circle cx="2362.8" cy="2352.9" r="4.6" fill="#0000ff"/><circle cx="2378.4" cy="2364.5" r="4.6" fill="#0000ff"/><circle cx="2393.9" cy="2374.8" r="4.6" fill="#0000ff"/><circle cx="2409.5" cy="2383.8" r="4.6" fill="#0000ff"/><circle cx="2425.1" cy="2391.4" r="4.6" fill="#0000ff"/><circle cx="2440.6" cy="2398.5" r="4.6" fill="#0000ff"/><circle cx="2456.2" cy="2404.8" r="4.6" fill="#0000ff"/><circle cx="2471.8" cy="2410.5" r="4.6" fill="#0000ff"/><circle cx="2487.3" cy="2415.5" r="4.6" fill="#0000ff"/><circle cx="2502.9" cy="2420.1" r="4.6" fill="#0000ff"/><circle cx="2518.4" cy="2424.3" r="4.6" fill="#0000ff"/><circle cx="2534.0" cy="2428.1" r="4.6" fill="#0000ff"/><circle cx="2549.6" cy="2431.9" r="4.6" fill="#0000ff"/><circle cx="2565.1" cy="2435.1" r="4.6" fill="#0000ff"/><circle cx="2580.7" cy="2438.2" r="4.6" fill="#0000ff"/></g>
<rect x="2285.0" y="2220.0" width="295.7" height="228.7" fill="none" stroke="#000" stroke-width="1.5" />
<rect x="2638.7" y="2220.0" width="296.2" height="228.6" fill="#fff" stroke="#000" stroke-width="1.5" />
<text x="2787.0" y="2211.6" font-family="'DejaVu Sans', sans-serif" font-size="17" fill="#000" text-anchor="middle">EqOpt</text>
<line x1="2633.7" y1="2242.1" x2="2638.7" y2="2242.1" stroke="#000" stroke-width="1.2" />
<text x="2629.2" y="2247.4" font-family="'DejaVu Sans', sans-serif" font-size="14.4" fill="#000" text-anchor="end">0.10</text>
<line x1="2633.7" y1="2293.1" x2="2638.7" y2="2293.1" stroke="#000" stroke-width="1.2" />
<text x="2629.2" y="2298.4" font-family="'DejaVu Sans', sans-serif" font-size="14.4" fill="#000" text-anchor="end">0.05</text>
<line x1="2633.7" y1="2343.8" x2="2638.7" y2="2343.8" stroke="#000" stroke-width="1.2" />
<text x="2629.2" y="2349.1" font-family="'DejaVu Sans', sans-serif" font-size="14.4" fill="#000" text-anchor="end">0.00</text>
<line x1="2633.7" y1="2394.6" x2="2638.7" y2="2394.6" stroke="#000" stroke-width="1.2" />
<text x="2629.2" y="2399.9" font-family="'DejaVu Sans', sans-serif" font-size="14.4" fill="#000" text-anchor="end">−0.05</text>
<line x1="2633.7" y1="2445.2" x2="2638.7" y2="2445.2" stroke="#000" stroke-width="1.2" />
<text x="2629.2" y="2450.5" font-family="'DejaVu Sans', sans-serif" font-size="14.4" fill="#000" text-anchor="end">−0.10</text>
<line x1="2638.7" y1="2448.6" x2="2638.7" y2="2453.6" stroke="#000" stroke-width="1.2" />
<text x="2638.7" y="2469.7" font-family="'DejaVu Sans', sans-serif" font-size="14.4" fill="#000" text-anchor="middle">4</text>
<line x1="2723.3" y1="2448.6" x2="2723.3" y2="2453.6" stroke="#000" stroke-width="1.2" />
<text x="2723.3" y="2469.7" font-family="'DejaVu Sans', sans-serif" font-size="14.4" fill="#000" text-anchor="middle">6</text>
<line x1="2807.6" y1="2448.6" x2="2807.6" y2="2453.6" stroke="#000" stroke-width="1.2" />
<text x="2807.6" y="2469.7" font-family="'DejaVu Sans', sans-serif" font-size="14.4" fill="#000" text-anchor="middle">8</text>
<line x1="2892.2" y1="2448.6" x2="2892.2" y2="2453.6" stroke="#000" stroke-width="1.2" />
<text x="2892.2" y="2469.7" font-family="'DejaVu Sans', sans-serif" font-size="14.4" fill="#000" text-anchor="middle">10</text>
<text x="2785.7" y="2483.9" font-family="'DejaVu Sans', sans-serif" font-size="18.4" fill="#000" font-style="italic" text-anchor="middle">w</text>
<line x1="2638.7" y1="2343.8" x2="2934.9" y2="2343.8" stroke="#000" stroke-width="2.1" stroke-dasharray="11 4.8"/>
<g clip-path="url(#cp2)"><path d="M2638.7,2323.6 L2680.9,2323.6 L2723.2,2323.6 L2765.4,2323.6 L2807.7,2323.6 L2849.9,2323.6 L2892.1,2323.6 L2934.4,2323.6" fill="none" stroke="#ff0000" stroke-width="2.3"/><circle cx="2638.7" cy="2323.6" r="4.6" fill="#ff0000"/><circle cx="2680.9" cy="2323.6" r="4.6" fill="#ff0000"/><circle cx="2723.2" cy="2323.6" r="4.6" fill="#ff0000"/><circle cx="2765.4" cy="2323.6" r="4.6" fill="#ff0000"/><circle cx="2807.7" cy="2323.6" r="4.6" fill="#ff0000"/><circle cx="2849.9" cy="2323.6" r="4.6" fill="#ff0000"/><circle cx="2892.1" cy="2323.6" r="4.6" fill="#ff0000"/><circle cx="2934.4" cy="2323.6" r="4.6" fill="#ff0000"/></g>
<g clip-path="url(#cp2)"><path d="M2638.7,2230.5 L2680.9,2275.9 L2723.2,2313.1 L2765.4,2345.5 L2807.7,2373.2 L2849.9,2397.5 L2892.1,2418.6 L2934.4,2438.5" fill="none" stroke="#0000ff" stroke-width="2.3"/><circle cx="2638.7" cy="2230.5" r="4.6" fill="#0000ff"/><circle cx="2680.9" cy="2275.9" r="4.6" fill="#0000ff"/><circle cx="2723.2" cy="2313.1" r="4.6" fill="#0000ff"/><circle cx="2765.4" cy="2345.5" r="4.6" fill="#0000ff"/><circle cx="2807.7" cy="2373.2" r="4.6" fill="#0000ff"/><circle cx="2849.9" cy="2397.5" r="4.6" fill="#0000ff"/><circle cx="2892.1" cy="2418.6" r="4.6" fill="#0000ff"/><circle cx="2934.4" cy="2438.5" r="4.6" fill="#0000ff"/></g>
<rect x="2638.7" y="2220.0" width="296.2" height="228.6" fill="none" stroke="#000" stroke-width="1.5" />
<rect x="2768.9" y="2227.8" width="157.4" height="49.6" fill="#fff" stroke="#cccccc" stroke-width="1.2" rx="3" opacity="0.9"/>
<line x1="2774.2" y1="2240.2" x2="2806.7" y2="2240.2" stroke="#0000ff" stroke-width="2.1" />
<circle cx="2790.4" cy="2240.2" r="4.6" fill="#0000ff" />
<line x1="2774.2" y1="2263.1" x2="2806.7" y2="2263.1" stroke="#ff0000" stroke-width="2.1" />
<circle cx="2790.4" cy="2263.1" r="4.6" fill="#ff0000" />
<text x="2817.7" y="2245.3" font-family="'DejaVu Sans', sans-serif" font-size="14.4" fill="#000" textLength="67.2" lengthAdjust="spacingAndGlyphs">strategic</text>
<text x="2818.1" y="2268.3" font-family="'DejaVu Sans', sans-serif" font-size="14.4" fill="#000" textLength="102.1" lengthAdjust="spacingAndGlyphs">non-strategic</text>
<circle cx="2093.8" cy="2541.2" r="8.5" fill="#231f20" />
<text x="2114.9" y="2551.7" font-family="'Liberation Serif', 'DejaVu Serif', serif" font-size="38" fill="#231f20" textLength="995.1" lengthAdjust="spacingAndGlyphs"><tspan font-weight="bold" font-style="italic">White &amp; Asian</tspan>: non-strategic fair policy has higher utilities</text>
<rect x="2141.5" y="2572.5" width="909.6" height="2.1" fill="#000" />
<rect x="2141.5" y="2633.5" width="909.6" height="1.2" fill="#000" />
<rect x="2141.5" y="2726.9" width="909.6" height="2.1" fill="#000" />
<text x="2182.4" y="2615.3" font-family="'Liberation Serif', 'DejaVu Serif', serif" font-size="32" fill="#000" textLength="28.7" lengthAdjust="spacingAndGlyphs"><tspan font-style="italic">δ</tspan><tspan font-size="23" baseline-shift="-7.4" font-style="italic">u</tspan></text>
<text x="2374.4" y="2615.3" font-family="'Liberation Serif', 'DejaVu Serif', serif" font-size="32" fill="#000" textLength="36.0" lengthAdjust="spacingAndGlyphs"><tspan font-style="italic">C</tspan><tspan font-size="23" baseline-shift="-7.4" font-style="italic">a</tspan></text>
<text x="2514.8" y="2615.3" font-family="'Liberation Serif', 'DejaVu Serif', serif" font-size="32" fill="#000" textLength="45.0" lengthAdjust="spacingAndGlyphs"><tspan font-style="italic">U</tspan><tspan font-size="23" baseline-shift="-7.4" font-style="italic">a</tspan>(</text>
<text x="2563.8" y="2615.3" font-family="'Liberation Serif', 'DejaVu Serif', serif" font-size="32" fill="#000"><tspan font-style="italic">θ</tspan></text>
<path d="M2562.8,2592.3 L2571.8,2584.8 L2580.8,2592.3" fill="none" stroke="#000" stroke-width="1.3"/>
<text x="2580.8" y="2602.8" font-family="'Liberation Serif', 'DejaVu Serif', serif" font-size="17" fill="#000" textLength="26.0" lengthAdjust="spacingAndGlyphs">UN</text>
<text x="2580.8" y="2622.3" font-family="'Liberation Serif', 'DejaVu Serif', serif" font-size="23" fill="#000" font-style="italic">a</text>
<text x="2610.7" y="2615.3" font-family="'Liberation Serif', 'DejaVu Serif', serif" font-size="32" fill="#000">)</text>
<text x="2661.4" y="2615.3" font-family="'Liberation Serif', 'DejaVu Serif', serif" font-size="32" fill="#000" textLength="45.0" lengthAdjust="spacingAndGlyphs"><tspan font-style="italic">U</tspan><tspan font-size="23" baseline-shift="-7.4" font-style="italic">a</tspan>(</text>
<text x="2710.4" y="2615.3" font-family="'Liberation Serif', 'DejaVu Serif', serif" font-size="32" fill="#000"><tspan font-style="italic">θ</tspan></text>
<path d="M2709.4,2592.3 L2718.4,2584.8 L2727.4,2592.3" fill="none" stroke="#000" stroke-width="1.3"/>
<text x="2727.4" y="2602.8" font-family="'Liberation Serif', 'DejaVu Serif', serif" font-size="21" fill="#000" font-style="italic">C</text>
<text x="2727.4" y="2622.3" font-family="'Liberation Serif', 'DejaVu Serif', serif" font-size="23" fill="#000" font-style="italic">a</text>
<text x="2745.0" y="2615.3" font-family="'Liberation Serif', 'DejaVu Serif', serif" font-size="32" fill="#000">)</text>
<text x="2795.3" y="2615.3" font-family="'Liberation Serif', 'DejaVu Serif', serif" font-size="32" fill="#000" textLength="43.6" lengthAdjust="spacingAndGlyphs"><tspan font-style="italic">U</tspan><tspan font-size="23" baseline-shift="-7.4" font-style="italic">b</tspan>(</text>
<text x="2842.8" y="2615.3" font-family="'Liberation Serif', 'DejaVu Serif', serif" font-size="32" fill="#000"><tspan font-style="italic">θ</tspan></text>
<path d="M2841.8,2592.3 L2850.8,2584.8 L2859.8,2592.3" fill="none" stroke="#000" stroke-width="1.3"/>
<text x="2859.8" y="2602.8" font-family="'Liberation Serif', 'DejaVu Serif', serif" font-size="17" fill="#000" textLength="26.0" lengthAdjust="spacingAndGlyphs">UN</text>
<text x="2859.8" y="2622.3" font-family="'Liberation Serif', 'DejaVu Serif', serif" font-size="23" fill="#000" font-style="italic">b</text>
<text x="2887.9" y="2615.3" font-family="'Liberation Serif', 'DejaVu Serif', serif" font-size="32" fill="#000">)</text>
<text x="2939.8" y="2615.3" font-family="'Liberation Serif', 'DejaVu Serif', serif" font-size="32" fill="#000" textLength="43.4" lengthAdjust="spacingAndGlyphs"><tspan font-style="italic">U</tspan><tspan font-size="23" baseline-shift="-7.4" font-style="italic">b</tspan>(</text>
<text x="2987.0" y="2615.3" font-family="'Liberation Serif', 'DejaVu Serif', serif" font-size="32" fill="#000"><tspan font-style="italic">θ</tspan></text>
<path d="M2986.0,2592.3 L2995.0,2584.8 L3004.0,2592.3" fill="none" stroke="#000" stroke-width="1.3"/>
<text x="3004.0" y="2602.8" font-family="'Liberation Serif', 'DejaVu Serif', serif" font-size="21" fill="#000" font-style="italic">C</text>
<text x="3004.0" y="2622.3" font-family="'Liberation Serif', 'DejaVu Serif', serif" font-size="23" fill="#000" font-style="italic">b</text>
<text x="3020.1" y="2615.3" font-family="'Liberation Serif', 'DejaVu Serif', serif" font-size="32" fill="#000">)</text>
<text x="2177.1" y="2669.7" font-family="'Liberation Serif', 'DejaVu Serif', serif" font-size="32" fill="#000" textLength="38.9" lengthAdjust="spacingAndGlyphs">0.8</text>
<text x="2312.2" y="2669.7" font-family="'Liberation Serif', 'DejaVu Serif', serif" font-size="32" fill="#000" textLength="159.7" lengthAdjust="spacingAndGlyphs">Beta(10, 10)</text>
<text x="2526.3" y="2669.7" font-family="'Liberation Serif', 'DejaVu Serif', serif" font-size="32" fill="#000" textLength="81.9" lengthAdjust="spacingAndGlyphs">-0.190</text>
<text x="2667.1" y="2669.7" font-family="'Liberation Serif', 'DejaVu Serif', serif" font-size="32" fill="#000" textLength="81.9" lengthAdjust="spacingAndGlyphs">-0.189</text>
<text x="2811.7" y="2669.7" font-family="'Liberation Serif', 'DejaVu Serif', serif" font-size="32" fill="#000" textLength="70.8" lengthAdjust="spacingAndGlyphs">0.024</text>
<text x="2949.6" y="2669.7" font-family="'Liberation Serif', 'DejaVu Serif', serif" font-size="32" fill="#000" textLength="70.8" lengthAdjust="spacingAndGlyphs">0.034</text>
<text x="2161.5" y="2708.6" font-family="'Liberation Serif', 'DejaVu Serif', serif" font-size="32" fill="#000" textLength="70.9" lengthAdjust="spacingAndGlyphs">0.756</text>
<text x="2320.4" y="2708.6" font-family="'Liberation Serif', 'DejaVu Serif', serif" font-size="32" fill="#000" textLength="143.3" lengthAdjust="spacingAndGlyphs">Beta(10, 1)</text>
<text x="2532.0" y="2708.6" font-family="'Liberation Serif', 'DejaVu Serif', serif" font-size="32" fill="#000" textLength="70.9" lengthAdjust="spacingAndGlyphs">0.396</text>
<text x="2672.5" y="2708.6" font-family="'Liberation Serif', 'DejaVu Serif', serif" font-size="32" fill="#000" textLength="70.8" lengthAdjust="spacingAndGlyphs">0.397</text>
<text x="2811.7" y="2708.6" font-family="'Liberation Serif', 'DejaVu Serif', serif" font-size="32" fill="#000" textLength="69.5" lengthAdjust="spacingAndGlyphs">0.181</text>
<text x="2949.6" y="2708.6" font-family="'Liberation Serif', 'DejaVu Serif', serif" font-size="32" fill="#000" textLength="68.8" lengthAdjust="spacingAndGlyphs">0.201</text>
<circle cx="3184.0" cy="2144.7" r="8.5" fill="#231f20" />
<text x="3204.4" y="2155.2" font-family="'Liberation Serif', 'DejaVu Serif', serif" font-size="38" fill="#231f20" font-weight="bold" font-style="italic" textLength="135.1" lengthAdjust="spacingAndGlyphs">Black &amp;</text>
<text x="3350.7" y="2155.2" font-family="'Liberation Serif', 'DejaVu Serif', serif" font-size="36" fill="#231f20" textLength="35.1" lengthAdjust="spacingAndGlyphs"><tspan font-style="italic">G</tspan><tspan font-size="24" baseline-shift="-7.7" font-style="italic">a</tspan></text>
<text x="3394.0" y="2155.2" font-family="'Liberation Serif', 'DejaVu Serif', serif" font-size="38" fill="#231f20">:</text>
<text x="3412.9" y="2155.2" font-family="'Liberation Serif', 'DejaVu Serif', serif" font-size="38" fill="#231f20" textLength="584.9" lengthAdjust="spacingAndGlyphs">strategic policy worsens unfairness</text>
<rect x="3185.2" y="2175.3" width="804.8" height="2.1" fill="#000" />
<rect x="3185.2" y="2264.5" width="804.8" height="1.2" fill="#000" />
<rect x="3185.2" y="2388.2" width="804.8" height="1.2" fill="#000" />
<rect x="3185.2" y="2513.6" width="804.8" height="2.1" fill="#000" />
<text x="3569.1" y="2210.7" font-family="'Liberation Serif', 'DejaVu Serif', serif" font-size="27.5" fill="#000" textLength="101.1" lengthAdjust="spacingAndGlyphs">strategic</text>
<text x="3377.7" y="2230.0" font-family="'Liberation Serif', 'DejaVu Serif', serif" font-size="27.5" fill="#000" textLength="28.5" lengthAdjust="spacingAndGlyphs"><tspan font-style="italic">G</tspan><tspan font-size="20" baseline-shift="-6.4" font-style="italic">a</tspan></text>
<text x="3492.1" y="2248.8" font-family="'Liberation Serif', 'DejaVu Serif', serif" font-size="27.5" fill="#000" textLength="107.3" lengthAdjust="spacingAndGlyphs"><tspan font-style="italic">C</tspan><tspan font-size="20" baseline-shift="-6.4" font-style="italic">a</tspan> = <tspan font-style="italic">C</tspan><tspan font-size="20" baseline-shift="-6.4" font-style="italic">b</tspan></text>
<text x="3638.7" y="2248.8" font-family="'Liberation Serif', 'DejaVu Serif', serif" font-size="27.5" fill="#000" textLength="107.3" lengthAdjust="spacingAndGlyphs"><tspan font-style="italic">C</tspan><tspan font-size="20" baseline-shift="-6.4" font-style="italic">a</tspan> ≠ <tspan font-style="italic">C</tspan><tspan font-size="20" baseline-shift="-6.4" font-style="italic">b</tspan></text>
<text x="3785.6" y="2229.2" font-family="'Liberation Serif', 'DejaVu Serif', serif" font-size="27.5" fill="#000" textLength="155.5" lengthAdjust="spacingAndGlyphs">non-strategic</text>
<text x="3331.0" y="2298.8" font-family="'Liberation Serif', 'DejaVu Serif', serif" font-size="27.5" fill="#000" textLength="123.3" lengthAdjust="spacingAndGlyphs">Caucasian</text>
<text x="3512.4" y="2298.8" font-family="'Liberation Serif', 'DejaVu Serif', serif" font-size="27.5" fill="#000" textLength="66.7" lengthAdjust="spacingAndGlyphs">0.355</text>
<text x="3659.0" y="2298.8" font-family="'Liberation Serif', 'DejaVu Serif', serif" font-size="27.5" fill="#000" textLength="67.4" lengthAdjust="spacingAndGlyphs">0.556</text>
<text x="3829.0" y="2298.8" font-family="'Liberation Serif', 'DejaVu Serif', serif" font-size="27.5" fill="#000" textLength="67.0" lengthAdjust="spacingAndGlyphs">0.136</text>
<text x="3339.5" y="2334.7" font-family="'Liberation Serif', 'DejaVu Serif', serif" font-size="27.5" fill="#000" textLength="106.7" lengthAdjust="spacingAndGlyphs">Hispanic</text>
<text x="3512.4" y="2334.7" font-family="'Liberation Serif', 'DejaVu Serif', serif" font-size="27.5" fill="#000" textLength="66.7" lengthAdjust="spacingAndGlyphs">0.292</text>
<text x="3659.0" y="2334.7" font-family="'Liberation Serif', 'DejaVu Serif', serif" font-size="27.5" fill="#000" textLength="67.4" lengthAdjust="spacingAndGlyphs">0.493</text>
<text x="3829.0" y="2334.7" font-family="'Liberation Serif', 'DejaVu Serif', serif" font-size="27.5" fill="#000" textLength="67.0" lengthAdjust="spacingAndGlyphs">0.034</text>
<text x="3358.8" y="2371.0" font-family="'Liberation Serif', 'DejaVu Serif', serif" font-size="27.5" fill="#000" textLength="67.7" lengthAdjust="spacingAndGlyphs">Asian</text>
<text x="3512.4" y="2371.0" font-family="'Liberation Serif', 'DejaVu Serif', serif" font-size="27.5" fill="#000" textLength="66.7" lengthAdjust="spacingAndGlyphs">0.333</text>
<text x="3659.0" y="2371.0" font-family="'Liberation Serif', 'DejaVu Serif', serif" font-size="27.5" fill="#000" textLength="67.4" lengthAdjust="spacingAndGlyphs">0.533</text>
<text x="3829.0" y="2371.0" font-family="'Liberation Serif', 'DejaVu Serif', serif" font-size="27.5" fill="#000" textLength="67.0" lengthAdjust="spacingAndGlyphs">0.123</text>
<text x="3331.0" y="2423.6" font-family="'Liberation Serif', 'DejaVu Serif', serif" font-size="27.5" fill="#000" textLength="123.3" lengthAdjust="spacingAndGlyphs">Caucasian</text>
<text x="3512.4" y="2423.6" font-family="'Liberation Serif', 'DejaVu Serif', serif" font-size="27.5" fill="#000" textLength="66.7" lengthAdjust="spacingAndGlyphs">0.611</text>
<text x="3659.0" y="2423.6" font-family="'Liberation Serif', 'DejaVu Serif', serif" font-size="27.5" fill="#000" textLength="67.4" lengthAdjust="spacingAndGlyphs">0.680</text>
<text x="3829.0" y="2423.6" font-family="'Liberation Serif', 'DejaVu Serif', serif" font-size="27.5" fill="#000" textLength="67.0" lengthAdjust="spacingAndGlyphs">0.449</text>
<text x="3339.5" y="2459.5" font-family="'Liberation Serif', 'DejaVu Serif', serif" font-size="27.5" fill="#000" textLength="106.7" lengthAdjust="spacingAndGlyphs">Hispanic</text>
<text x="3512.4" y="2459.5" font-family="'Liberation Serif', 'DejaVu Serif', serif" font-size="27.5" fill="#000" textLength="66.7" lengthAdjust="spacingAndGlyphs">0.421</text>
<text x="3659.0" y="2459.5" font-family="'Liberation Serif', 'DejaVu Serif', serif" font-size="27.5" fill="#000" textLength="67.4" lengthAdjust="spacingAndGlyphs">0.490</text>
<text x="3829.0" y="2459.5" font-family="'Liberation Serif', 'DejaVu Serif', serif" font-size="27.5" fill="#000" textLength="67.0" lengthAdjust="spacingAndGlyphs">0.242</text>
<text x="3358.8" y="2495.8" font-family="'Liberation Serif', 'DejaVu Serif', serif" font-size="27.5" fill="#000" textLength="67.7" lengthAdjust="spacingAndGlyphs">Asian</text>
<text x="3512.4" y="2495.8" font-family="'Liberation Serif', 'DejaVu Serif', serif" font-size="27.5" fill="#000" textLength="66.7" lengthAdjust="spacingAndGlyphs">0.634</text>
<text x="3659.0" y="2495.8" font-family="'Liberation Serif', 'DejaVu Serif', serif" font-size="27.5" fill="#000" textLength="67.4" lengthAdjust="spacingAndGlyphs">0.703</text>
<text x="3829.0" y="2495.8" font-family="'Liberation Serif', 'DejaVu Serif', serif" font-size="27.5" fill="#000" textLength="67.0" lengthAdjust="spacingAndGlyphs">0.522</text>
<text x="3204.4" y="2336.6" font-family="'Liberation Mono', monospace" font-size="27" fill="#333" textLength="87.0" lengthAdjust="spacingAndGlyphs">EqOpt</text>
<text x="3204.4" y="2460.6" font-family="'Liberation Mono', monospace" font-size="27" fill="#333" textLength="33.3" lengthAdjust="spacingAndGlyphs">DP</text>
<circle cx="3184.0" cy="2563.4" r="8.5" fill="#231f20" />
<text x="3204.4" y="2573.9" font-family="'Liberation Serif', 'DejaVu Serif', serif" font-size="42" fill="#231f20" font-weight="bold" font-style="italic" textLength="233.0" lengthAdjust="spacingAndGlyphs">More results</text>
<text x="3439.0" y="2573.9" font-family="'Liberation Serif', 'DejaVu Serif', serif" font-size="42" fill="#231f20">:</text>
<path d="M3505.4,2582.3h39.0v5.7h-39.0zM3549.8,2582.3h5.7v5.7h-5.7zM3561.0,2582.3h16.8v5.7h-16.8zM3588.7,2582.3h5.7v5.7h-5.7zM3627.6,2582.3h39.0v5.7h-39.0zM3505.4,2587.9h5.7v5.7h-5.7zM3538.7,2587.9h5.7v5.7h-5.7zM3566.5,2587.9h33.5v5.7h-33.5zM3627.6,2587.9h5.7v5.7h-5.7zM3660.9,2587.9h5.7v5.7h-5.7zM3505.4,2593.4h5.7v5.7h-5.7zM3516.5,2593.4h16.8v5.7h-16.8zM3538.7,2593.4h5.7v5.7h-5.7zM3549.8,2593.4h11.3v5.7h-11.3zM3566.5,2593.4h5.7v5.7h-5.7zM3577.6,2593.4h11.3v5.7h-11.3zM3610.9,2593.4h11.3v5.7h-11.3zM3627.6,2593.4h5.7v5.7h-5.7zM3638.7,2593.4h16.8v5.7h-16.8zM3660.9,2593.4h5.7v5.7h-5.7zM3505.4,2599.0h5.7v5.7h-5.7zM3516.5,2599.0h16.8v5.7h-16.8zM3538.7,2599.0h5.7v5.7h-5.7zM3549.8,2599.0h22.4v5.7h-22.4zM3610.9,2599.0h11.3v5.7h-11.3zM3627.6,2599.0h5.7v5.7h-5.7zM3638.7,2599.0h16.8v5.7h-16.8zM3660.9,2599.0h5.7v5.7h-5.7zM3505.4,2604.5h5.7v5.7h-5.7zM3516.5,2604.5h16.8v5.7h-16.8zM3538.7,2604.5h5.7v5.7h-5.7zM3549.8,2604.5h5.7v5.7h-5.7zM3566.5,2604.5h39.0v5.7h-39.0zM3610.9,2604.5h5.7v5.7h-5.7zM3627.6,2604.5h5.7v5.7h-5.7zM3638.7,2604.5h16.8v5.7h-16.8zM3660.9,2604.5h5.7v5.7h-5.7zM3505.4,2610.1h5.7v5.7h-5.7zM3538.7,2610.1h5.7v5.7h-5.7zM3549.8,2610.1h11.3v5.7h-11.3zM3566.5,2610.1h5.7v5.7h-5.7zM3577.6,2610.1h5.7v5.7h-5.7zM3588.7,2610.1h5.7v5.7h-5.7zM3599.8,2610.1h5.7v5.7h-5.7zM3610.9,2610.1h5.7v5.7h-5.7zM3627.6,2610.1h5.7v5.7h-5.7zM3660.9,2610.1h5.7v5.7h-5.7zM3505.4,2615.6h39.0v5.7h-39.0zM3549.8,2615.6h5.7v5.7h-5.7zM3561.0,2615.6h5.7v5.7h-5.7zM3572.1,2615.6h5.7v5.7h-5.7zM3583.2,2615.6h5.7v5.7h-5.7zM3594.3,2615.6h5.7v5.7h-5.7zM3605.4,2615.6h5.7v5.7h-5.7zM3616.5,2615.6h5.7v5.7h-5.7zM3627.6,2615.6h39.0v5.7h-39.0zM3561.0,2621.2h16.8v5.7h-16.8zM3583.2,2621.2h5.7v5.7h-5.7zM3605.4,2621.2h16.8v5.7h-16.8zM3505.4,2626.7h22.4v5.7h-22.4zM3533.2,2626.7h11.3v5.7h-11.3zM3561.0,2626.7h11.3v5.7h-11.3zM3610.9,2626.7h27.9v5.7h-27.9zM3644.3,2626.7h5.7v5.7h-5.7zM3527.6,2632.3h11.3v5.7h-11.3zM3544.3,2632.3h11.3v5.7h-11.3zM3561.0,2632.3h16.8v5.7h-16.8zM3610.9,2632.3h11.3v5.7h-11.3zM3633.2,2632.3h5.7v5.7h-5.7zM3522.1,2637.9h22.4v5.7h-22.4zM3594.3,2637.9h5.7v5.7h-5.7zM3610.9,2637.9h16.8v5.7h-16.8zM3638.7,2637.9h11.3v5.7h-11.3zM3655.4,2637.9h5.7v5.7h-5.7zM3505.4,2643.4h11.3v5.7h-11.3zM3527.6,2643.4h11.3v5.7h-11.3zM3561.0,2643.4h5.7v5.7h-5.7zM3572.1,2643.4h11.3v5.7h-11.3zM3588.7,2643.4h5.7v5.7h-5.7zM3622.1,2643.4h27.9v5.7h-27.9zM3511.0,2649.0h5.7v5.7h-5.7zM3522.1,2649.0h5.7v5.7h-5.7zM3533.2,2649.0h22.4v5.7h-22.4zM3561.0,2649.0h5.7v5.7h-5.7zM3577.6,2649.0h5.7v5.7h-5.7zM3588.7,2649.0h11.3v5.7h-11.3zM3610.9,2649.0h5.7v5.7h-5.7zM3622.1,2649.0h5.7v5.7h-5.7zM3633.2,2649.0h5.7v5.7h-5.7zM3644.3,2649.0h11.3v5.7h-11.3zM3505.4,2654.5h33.5v5.7h-33.5zM3544.3,2654.5h16.8v5.7h-16.8zM3572.1,2654.5h39.0v5.7h-39.0zM3616.5,2654.5h11.3v5.7h-11.3zM3660.9,2654.5h5.7v5.7h-5.7zM3522.1,2660.1h22.4v5.7h-22.4zM3555.4,2660.1h11.3v5.7h-11.3zM3572.1,2660.1h22.4v5.7h-22.4zM3599.8,2660.1h11.3v5.7h-11.3zM3622.1,2660.1h5.7v5.7h-5.7zM3644.3,2660.1h11.3v5.7h-11.3zM3660.9,2660.1h5.7v5.7h-5.7zM3511.0,2665.6h22.4v5.7h-22.4zM3544.3,2665.6h22.4v5.7h-22.4zM3583.2,2665.6h11.3v5.7h-11.3zM3599.8,2665.6h5.7v5.7h-5.7zM3616.5,2665.6h16.8v5.7h-16.8zM3655.4,2665.6h11.3v5.7h-11.3zM3516.5,2671.2h27.9v5.7h-27.9zM3549.8,2671.2h5.7v5.7h-5.7zM3577.6,2671.2h5.7v5.7h-5.7zM3622.1,2671.2h11.3v5.7h-11.3zM3655.4,2671.2h5.7v5.7h-5.7zM3511.0,2676.7h22.4v5.7h-22.4zM3561.0,2676.7h5.7v5.7h-5.7zM3588.7,2676.7h5.7v5.7h-5.7zM3616.5,2676.7h5.7v5.7h-5.7zM3644.3,2676.7h22.4v5.7h-22.4zM3511.0,2682.3h5.7v5.7h-5.7zM3522.1,2682.3h11.3v5.7h-11.3zM3538.7,2682.3h5.7v5.7h-5.7zM3561.0,2682.3h5.7v5.7h-5.7zM3588.7,2682.3h11.3v5.7h-11.3zM3610.9,2682.3h11.3v5.7h-11.3zM3644.3,2682.3h11.3v5.7h-11.3zM3660.9,2682.3h5.7v5.7h-5.7zM3511.0,2687.8h27.9v5.7h-27.9zM3544.3,2687.8h5.7v5.7h-5.7zM3561.0,2687.8h5.7v5.7h-5.7zM3577.6,2687.8h5.7v5.7h-5.7zM3605.4,2687.8h5.7v5.7h-5.7zM3660.9,2687.8h5.7v5.7h-5.7zM3505.4,2693.4h11.3v5.7h-11.3zM3522.1,2693.4h11.3v5.7h-11.3zM3538.7,2693.4h11.3v5.7h-11.3zM3555.4,2693.4h5.7v5.7h-5.7zM3588.7,2693.4h11.3v5.7h-11.3zM3616.5,2693.4h27.9v5.7h-27.9zM3655.4,2693.4h11.3v5.7h-11.3zM3566.5,2699.0h11.3v5.7h-11.3zM3594.3,2699.0h5.7v5.7h-5.7zM3605.4,2699.0h5.7v5.7h-5.7zM3616.5,2699.0h5.7v5.7h-5.7zM3638.7,2699.0h5.7v5.7h-5.7zM3649.8,2699.0h16.8v5.7h-16.8zM3505.4,2704.5h39.0v5.7h-39.0zM3555.4,2704.5h27.9v5.7h-27.9zM3610.9,2704.5h11.3v5.7h-11.3zM3627.6,2704.5h5.7v5.7h-5.7zM3638.7,2704.5h27.9v5.7h-27.9zM3505.4,2710.1h5.7v5.7h-5.7zM3538.7,2710.1h5.7v5.7h-5.7zM3549.8,2710.1h27.9v5.7h-27.9zM3588.7,2710.1h33.5v5.7h-33.5zM3638.7,2710.1h5.7v5.7h-5.7zM3505.4,2715.6h5.7v5.7h-5.7zM3516.5,2715.6h16.8v5.7h-16.8zM3538.7,2715.6h5.7v5.7h-5.7zM3594.3,2715.6h5.7v5.7h-5.7zM3605.4,2715.6h5.7v5.7h-5.7zM3616.5,2715.6h27.9v5.7h-27.9zM3649.8,2715.6h11.3v5.7h-11.3zM3505.4,2721.2h5.7v5.7h-5.7zM3516.5,2721.2h16.8v5.7h-16.8zM3538.7,2721.2h5.7v5.7h-5.7zM3594.3,2721.2h5.7v5.7h-5.7zM3605.4,2721.2h16.8v5.7h-16.8zM3633.2,2721.2h27.9v5.7h-27.9zM3505.4,2726.7h5.7v5.7h-5.7zM3516.5,2726.7h16.8v5.7h-16.8zM3538.7,2726.7h5.7v5.7h-5.7zM3561.0,2726.7h27.9v5.7h-27.9zM3599.8,2726.7h22.4v5.7h-22.4zM3627.6,2726.7h5.7v5.7h-5.7zM3505.4,2732.3h5.7v5.7h-5.7zM3538.7,2732.3h5.7v5.7h-5.7zM3549.8,2732.3h5.7v5.7h-5.7zM3561.0,2732.3h16.8v5.7h-16.8zM3583.2,2732.3h22.4v5.7h-22.4zM3622.1,2732.3h11.3v5.7h-11.3zM3638.7,2732.3h5.7v5.7h-5.7zM3649.8,2732.3h11.3v5.7h-11.3zM3505.4,2737.8h39.0v5.7h-39.0zM3549.8,2737.8h33.5v5.7h-33.5zM3599.8,2737.8h5.7v5.7h-5.7zM3610.9,2737.8h5.7v5.7h-5.7zM3633.2,2737.8h5.7v5.7h-5.7zM3649.8,2737.8h16.8v5.7h-16.8z" fill="#000"/>
</svg>
</body></html>
